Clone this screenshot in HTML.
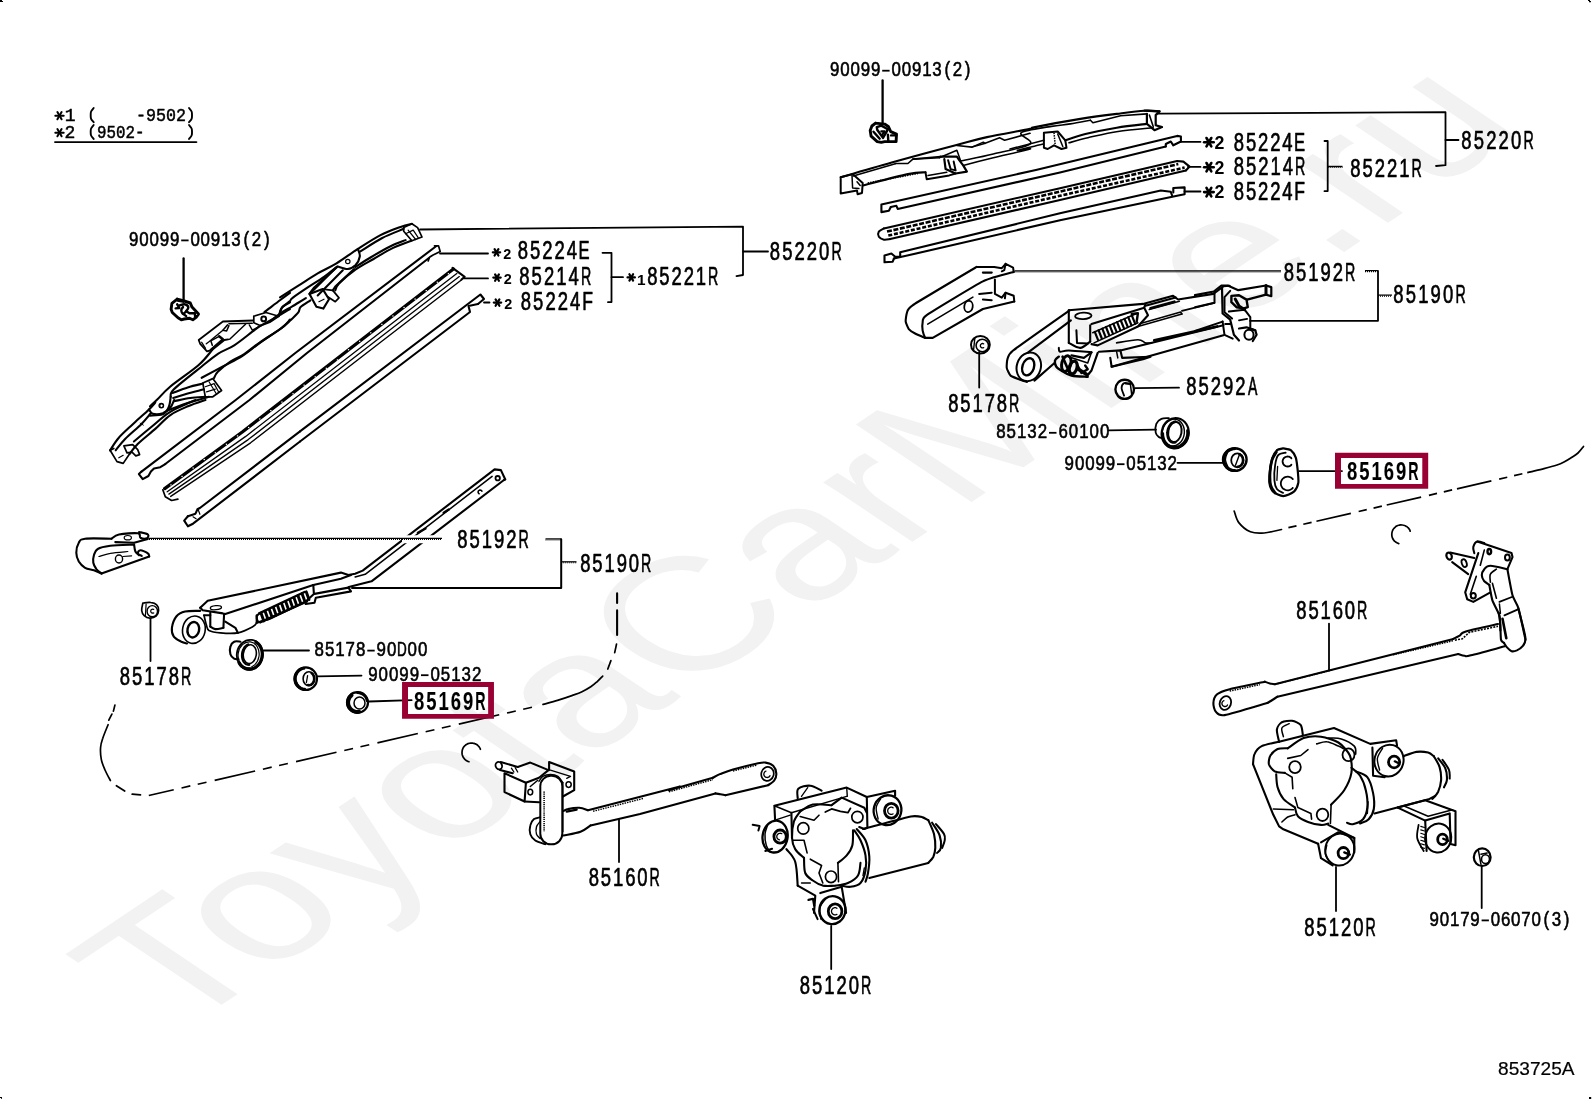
<!DOCTYPE html>
<html><head><meta charset="utf-8"><title>853725A</title>
<style>
html,body{margin:0;padding:0;background:#fff;}
body{width:1592px;height:1099px;overflow:hidden;font-family:"Liberation Sans",sans-serif;}
svg{display:block;will-change:transform;}
</style></head><body>
<svg width="1592" height="1099" viewBox="0 0 1592 1099">
<g fill="none" stroke="#000" stroke-width="1.3" stroke-linecap="round" stroke-linejoin="round">
<text transform="matrix(1.712,-1.148,1.68,1.13,177.2,1034.6)" font-family="Liberation Sans" font-size="100" fill="#f2f2f2" stroke="none">ToyotaCarMine.ru</text>
<path d="M0 0H2V1H3V2H0Z" fill="#000" stroke="none"/>
<path d="M1588 0H1590V1H1591V2.2H1589V1H1588Z" fill="#000" stroke="none"/>
<rect x="1589" y="1097" width="2.2" height="2" fill="#000" stroke="none"/>
<path d="M0 1097H2V1099H1.2V1098H0Z" fill="#000" stroke="none"/>
<path d="M55.3 115.7 L63.7 115.7" stroke-width="2"/>
<path d="M57.4 112.1 L61.6 119.3" stroke-width="2"/>
<path d="M61.6 112.1 L57.4 119.3" stroke-width="2"/>
<text x="70.2" y="121.4" font-family="Liberation Mono" font-size="18" text-anchor="middle" fill="#000" stroke="#000" stroke-width="0.5">1</text>
<path d="M93.7 108 C93.3 108.6 91.6 110.3 91.1 111.5 C90.6 112.7 90.7 113.9 90.7 115.2 C90.7 116.4 90.6 117.6 91.1 118.8 C91.6 120 93.3 121.7 93.7 122.3" stroke-width="1.9"/>
<text x="136" y="121.4" font-family="Liberation Mono" font-size="18" textLength="50" lengthAdjust="spacingAndGlyphs" fill="#000" stroke="#000" stroke-width="0.5">-9502</text>
<path d="M189 108 C189.4 108.6 191.1 110.3 191.6 111.5 C192.1 112.7 192 113.9 192 115.2 C192 116.4 192.1 117.6 191.6 118.8 C191.1 120 189.4 121.7 189 122.3" stroke-width="1.9"/>
<path d="M55.3 132.7 L63.7 132.7" stroke-width="2"/>
<path d="M57.4 129.1 L61.6 136.3" stroke-width="2"/>
<path d="M61.6 129.1 L57.4 136.3" stroke-width="2"/>
<text x="69.8" y="137.7" font-family="Liberation Mono" font-size="18" text-anchor="middle" fill="#000" stroke="#000" stroke-width="0.5">2</text>
<path d="M93.7 125 C93.3 125.6 91.6 127.3 91.1 128.5 C90.6 129.7 90.7 130.8 90.7 132 C90.7 133.2 90.6 134.3 91.1 135.5 C91.6 136.7 93.3 138.4 93.7 139" stroke-width="1.9"/>
<text x="97" y="137.7" font-family="Liberation Mono" font-size="18" textLength="47.5" lengthAdjust="spacingAndGlyphs" fill="#000" stroke="#000" stroke-width="0.5">9502-</text>
<path d="M189 125 C189.4 125.6 191.1 127.3 191.6 128.5 C192.1 129.7 192 130.8 192 132 C192 133.2 192.1 134.3 191.6 135.5 C191.1 136.7 189.4 138.4 189 139" stroke-width="1.9"/>
<path d="M55 142.1 L196.4 142.1" stroke-width="1.9"/>
<path d="M181.2 240.4H188.6" stroke="#000" stroke-width="1.8" stroke-linecap="butt"/>
<text transform="translate(0 245.7) scale(0.82 1)" x="163.2 175.6 188.1 200.6 213 225.5 238 250.4 262.9 275.4 287.8 300.3 312.8 325.3" y="0" text-anchor="middle" font-family="Liberation Sans" font-size="20.6" fill="#000" stroke="#000" stroke-width="0.6">90099 00913(2)</text>
<text transform="translate(0 259.4) scale(0.630 1)" x="927.1" y="0" text-anchor="middle" font-family="Liberation Sans" font-size="26.4" fill="#000" stroke="#000" stroke-width="0.7">E</text>
<text transform="translate(0 259.4) scale(0.7 1)" x="747 764.5 782 799.5 816.9 834.4" y="0" text-anchor="middle" font-family="Liberation Sans" font-size="26.4" fill="#000" stroke="#000" stroke-width="0.7">85224 </text>
<text transform="translate(0 284.6) scale(0.539 1)" x="1087.3" y="0" text-anchor="middle" font-family="Liberation Sans" font-size="26.4" fill="#000" stroke="#000" stroke-width="0.7">R</text>
<text transform="translate(0 284.6) scale(0.7 1)" x="749.2 766.8 784.4 802 819.6 837.2" y="0" text-anchor="middle" font-family="Liberation Sans" font-size="26.4" fill="#000" stroke="#000" stroke-width="0.7">85214 </text>
<text transform="translate(0 309.7) scale(0.665 1)" x="883.6" y="0" text-anchor="middle" font-family="Liberation Sans" font-size="26.4" fill="#000" stroke="#000" stroke-width="0.7">F</text>
<text transform="translate(0 309.7) scale(0.7 1)" x="751.3 768.9 786.6 804.2 821.8 839.4" y="0" text-anchor="middle" font-family="Liberation Sans" font-size="26.4" fill="#000" stroke="#000" stroke-width="0.7">85224 </text>
<text transform="translate(0 284.6) scale(0.539 1)" x="1323.1" y="0" text-anchor="middle" font-family="Liberation Sans" font-size="26.4" fill="#000" stroke="#000" stroke-width="0.7">R</text>
<text transform="translate(0 284.6) scale(0.7 1)" x="932 949.3 966.7 984 1001.4 1018.8" y="0" text-anchor="middle" font-family="Liberation Sans" font-size="26.4" fill="#000" stroke="#000" stroke-width="0.7">85221 </text>
<text transform="translate(0 260.2) scale(0.539 1)" x="1552.1" y="0" text-anchor="middle" font-family="Liberation Sans" font-size="26.4" fill="#000" stroke="#000" stroke-width="0.7">R</text>
<text transform="translate(0 260.2) scale(0.7 1)" x="1107.1 1124.7 1142.3 1159.9 1177.5 1195.1" y="0" text-anchor="middle" font-family="Liberation Sans" font-size="26.4" fill="#000" stroke="#000" stroke-width="0.7">85220 </text>
<text transform="translate(0 548.2) scale(0.539 1)" x="971.4" y="0" text-anchor="middle" font-family="Liberation Sans" font-size="26.4" fill="#000" stroke="#000" stroke-width="0.7">R</text>
<text transform="translate(0 548.2) scale(0.7 1)" x="660.6 678.1 695.5 713 730.5 748" y="0" text-anchor="middle" font-family="Liberation Sans" font-size="26.4" fill="#000" stroke="#000" stroke-width="0.7">85192 </text>
<text transform="translate(0 572) scale(0.539 1)" x="1198.7" y="0" text-anchor="middle" font-family="Liberation Sans" font-size="26.4" fill="#000" stroke="#000" stroke-width="0.7">R</text>
<text transform="translate(0 572) scale(0.7 1)" x="836.2 853.6 871 888.3 905.7 923" y="0" text-anchor="middle" font-family="Liberation Sans" font-size="26.4" fill="#000" stroke="#000" stroke-width="0.7">85190 </text>
<text transform="translate(0 685.2) scale(0.539 1)" x="345.3" y="0" text-anchor="middle" font-family="Liberation Sans" font-size="26.4" fill="#000" stroke="#000" stroke-width="0.7">R</text>
<text transform="translate(0 685.2) scale(0.7 1)" x="178.4 195.9 213.4 230.9 248.4 265.8" y="0" text-anchor="middle" font-family="Liberation Sans" font-size="26.4" fill="#000" stroke="#000" stroke-width="0.7">85178 </text>
<path d="M367.3 650.6H374.7" stroke="#000" stroke-width="1.8" stroke-linecap="butt"/>
<text transform="translate(0 655.9) scale(0.656 1)" x="612.8" y="0" text-anchor="middle" font-family="Liberation Sans" font-size="20.6" fill="#000" stroke="#000" stroke-width="0.6">D</text>
<text transform="translate(0 655.9) scale(0.82 1)" x="389.4 402 414.6 427.2 439.8 452.4 465 477.6 490.2 502.8 515.4" y="0" text-anchor="middle" font-family="Liberation Sans" font-size="20.6" fill="#000" stroke="#000" stroke-width="0.6">85178 90 00</text>
<path d="M421 675.2H428.5" stroke="#000" stroke-width="1.8" stroke-linecap="butt"/>
<text transform="translate(0 680.5) scale(0.82 1)" x="454.7 467.4 480 492.7 505.3 518 530.6 543.3 556 568.6 581.3" y="0" text-anchor="middle" font-family="Liberation Sans" font-size="20.6" fill="#000" stroke="#000" stroke-width="0.6">90099 05132</text>
<text transform="translate(0 710.2) scale(0.539 1)" x="891.3" y="0" text-anchor="middle" font-family="Liberation Sans" font-size="26.4" fill="#000" font-weight="bold" stroke="#000" stroke-width="0.1">R</text>
<text transform="translate(0 710.2) scale(0.7 1)" x="598.9 616.3 633.8 651.3 668.8 686.3" y="0" text-anchor="middle" font-family="Liberation Sans" font-size="26.4" fill="#000" font-weight="bold" stroke="#000" stroke-width="0.1">85169 </text>
<text transform="translate(0 886) scale(0.539 1)" x="1214.5" y="0" text-anchor="middle" font-family="Liberation Sans" font-size="26.4" fill="#000" stroke="#000" stroke-width="0.7">R</text>
<text transform="translate(0 886) scale(0.7 1)" x="848.4 865.7 883.1 900.5 917.8 935.2" y="0" text-anchor="middle" font-family="Liberation Sans" font-size="26.4" fill="#000" stroke="#000" stroke-width="0.7">85160 </text>
<text transform="translate(0 993.5) scale(0.539 1)" x="1606.9" y="0" text-anchor="middle" font-family="Liberation Sans" font-size="26.4" fill="#000" stroke="#000" stroke-width="0.7">R</text>
<text transform="translate(0 993.5) scale(0.7 1)" x="1149.9 1167.3 1184.8 1202.3 1219.8 1237.3" y="0" text-anchor="middle" font-family="Liberation Sans" font-size="26.4" fill="#000" stroke="#000" stroke-width="0.7">85120 </text>
<path d="M882.2 70.7H889.6" stroke="#000" stroke-width="1.8" stroke-linecap="butt"/>
<text transform="translate(0 76) scale(0.82 1)" x="1018 1030.5 1043 1055.4 1067.9 1080.4 1092.9 1105.3 1117.8 1130.3 1142.7 1155.2 1167.7 1180.1" y="0" text-anchor="middle" font-family="Liberation Sans" font-size="20.6" fill="#000" stroke="#000" stroke-width="0.6">90099 00913(2)</text>
<text transform="translate(0 150.6) scale(0.630 1)" x="2062.9" y="0" text-anchor="middle" font-family="Liberation Sans" font-size="26.4" fill="#000" stroke="#000" stroke-width="0.7">E</text>
<text transform="translate(0 150.6) scale(0.7 1)" x="1769.8 1787.2 1804.5 1821.9 1839.3 1856.6" y="0" text-anchor="middle" font-family="Liberation Sans" font-size="26.4" fill="#000" stroke="#000" stroke-width="0.7">85224 </text>
<text transform="translate(0 175.2) scale(0.539 1)" x="2412" y="0" text-anchor="middle" font-family="Liberation Sans" font-size="26.4" fill="#000" stroke="#000" stroke-width="0.7">R</text>
<text transform="translate(0 175.2) scale(0.7 1)" x="1769.9 1787.3 1804.8 1822.3 1839.8 1857.3" y="0" text-anchor="middle" font-family="Liberation Sans" font-size="26.4" fill="#000" stroke="#000" stroke-width="0.7">85214 </text>
<text transform="translate(0 199.6) scale(0.665 1)" x="1954.3" y="0" text-anchor="middle" font-family="Liberation Sans" font-size="26.4" fill="#000" stroke="#000" stroke-width="0.7">F</text>
<text transform="translate(0 199.6) scale(0.7 1)" x="1769.8 1787.2 1804.5 1821.9 1839.3 1856.6" y="0" text-anchor="middle" font-family="Liberation Sans" font-size="26.4" fill="#000" stroke="#000" stroke-width="0.7">85224 </text>
<text transform="translate(0 176.9) scale(0.539 1)" x="2628.2" y="0" text-anchor="middle" font-family="Liberation Sans" font-size="26.4" fill="#000" stroke="#000" stroke-width="0.7">R</text>
<text transform="translate(0 176.9) scale(0.7 1)" x="1936.3 1953.8 1971.3 1988.7 2006.2 2023.7" y="0" text-anchor="middle" font-family="Liberation Sans" font-size="26.4" fill="#000" stroke="#000" stroke-width="0.7">85221 </text>
<text transform="translate(0 149.4) scale(0.539 1)" x="2835.9" y="0" text-anchor="middle" font-family="Liberation Sans" font-size="26.4" fill="#000" stroke="#000" stroke-width="0.7">R</text>
<text transform="translate(0 149.4) scale(0.7 1)" x="2095 2112.7 2130.4 2148.2 2165.9 2183.6" y="0" text-anchor="middle" font-family="Liberation Sans" font-size="26.4" fill="#000" stroke="#000" stroke-width="0.7">85220 </text>
<text transform="translate(0 280.8) scale(0.539 1)" x="2504.8" y="0" text-anchor="middle" font-family="Liberation Sans" font-size="26.4" fill="#000" stroke="#000" stroke-width="0.7">R</text>
<text transform="translate(0 280.8) scale(0.7 1)" x="1841.3 1858.8 1876.3 1893.7 1911.2 1928.7" y="0" text-anchor="middle" font-family="Liberation Sans" font-size="26.4" fill="#000" stroke="#000" stroke-width="0.7">85192 </text>
<text transform="translate(0 303.4) scale(0.539 1)" x="2709.7" y="0" text-anchor="middle" font-family="Liberation Sans" font-size="26.4" fill="#000" stroke="#000" stroke-width="0.7">R</text>
<text transform="translate(0 303.4) scale(0.7 1)" x="1997.8 2015.5 2033.3 2051 2068.7 2086.5" y="0" text-anchor="middle" font-family="Liberation Sans" font-size="26.4" fill="#000" stroke="#000" stroke-width="0.7">85190 </text>
<text transform="translate(0 412.2) scale(0.539 1)" x="1881.5" y="0" text-anchor="middle" font-family="Liberation Sans" font-size="26.4" fill="#000" stroke="#000" stroke-width="0.7">R</text>
<text transform="translate(0 412.2) scale(0.7 1)" x="1362 1379.3 1396.7 1414 1431.4 1448.8" y="0" text-anchor="middle" font-family="Liberation Sans" font-size="26.4" fill="#000" stroke="#000" stroke-width="0.7">85178 </text>
<text transform="translate(0 394.7) scale(0.532 1)" x="2354.5" y="0" text-anchor="middle" font-family="Liberation Sans" font-size="26.4" fill="#000" stroke="#000" stroke-width="0.7">A</text>
<text transform="translate(0 394.7) scale(0.7 1)" x="1702 1719.5 1737 1754.5 1771.9 1789.4" y="0" text-anchor="middle" font-family="Liberation Sans" font-size="26.4" fill="#000" stroke="#000" stroke-width="0.7">85292 </text>
<path d="M1049 432.8H1056.5" stroke="#000" stroke-width="1.8" stroke-linecap="butt"/>
<text transform="translate(0 438.1) scale(0.82 1)" x="1220.6 1233.2 1245.9 1258.5 1271.2 1283.8 1296.5 1309.2 1321.8 1334.5 1347.1" y="0" text-anchor="middle" font-family="Liberation Sans" font-size="20.6" fill="#000" stroke="#000" stroke-width="0.6">85132 60100</text>
<path d="M1117 464.2H1124.5" stroke="#000" stroke-width="1.8" stroke-linecap="butt"/>
<text transform="translate(0 469.5) scale(0.82 1)" x="1304 1316.6 1329.1 1341.7 1354.2 1366.8 1379.3 1391.9 1404.4 1416.9 1429.5" y="0" text-anchor="middle" font-family="Liberation Sans" font-size="20.6" fill="#000" stroke="#000" stroke-width="0.6">90099 05132</text>
<text transform="translate(0 480.2) scale(0.539 1)" x="2622.3" y="0" text-anchor="middle" font-family="Liberation Sans" font-size="26.4" fill="#000" font-weight="bold" stroke="#000" stroke-width="0.1">R</text>
<text transform="translate(0 480.2) scale(0.7 1)" x="1931.7 1949.2 1966.7 1984.2 2001.7 2019.1" y="0" text-anchor="middle" font-family="Liberation Sans" font-size="26.4" fill="#000" font-weight="bold" stroke="#000" stroke-width="0.1">85169 </text>
<text transform="translate(0 618.8) scale(0.539 1)" x="2527.1" y="0" text-anchor="middle" font-family="Liberation Sans" font-size="26.4" fill="#000" stroke="#000" stroke-width="0.7">R</text>
<text transform="translate(0 618.8) scale(0.7 1)" x="1859.1 1876.5 1893.8 1911.2 1928.5 1945.9" y="0" text-anchor="middle" font-family="Liberation Sans" font-size="26.4" fill="#000" stroke="#000" stroke-width="0.7">85160 </text>
<text transform="translate(0 936) scale(0.539 1)" x="2542.8" y="0" text-anchor="middle" font-family="Liberation Sans" font-size="26.4" fill="#000" stroke="#000" stroke-width="0.7">R</text>
<text transform="translate(0 936) scale(0.7 1)" x="1870.6 1888.1 1905.5 1923 1940.5 1958" y="0" text-anchor="middle" font-family="Liberation Sans" font-size="26.4" fill="#000" stroke="#000" stroke-width="0.7">85120 </text>
<path d="M1481.6 920.4H1488.9" stroke="#000" stroke-width="1.8" stroke-linecap="butt"/>
<text transform="translate(0 925.7) scale(0.82 1)" x="1749.1 1761.5 1774 1786.4 1798.8 1811.2 1823.7 1836.1 1848.5 1860.9 1873.4 1885.8 1898.2 1910.6" y="0" text-anchor="middle" font-family="Liberation Sans" font-size="20.6" fill="#000" stroke="#000" stroke-width="0.6">90179 06070(3)</text>
<text x="1498" y="1074.6" font-family="Liberation Sans" font-size="18.8" textLength="76.5" lengthAdjust="spacingAndGlyphs" fill="#000" stroke="#000" stroke-width="0.2">853725A</text>
<path d="M492.8 252.3 L500.2 252.3" stroke-width="2.2"/>
<path d="M494.6 249.1 L498.4 255.5" stroke-width="2.2"/>
<path d="M498.4 249.1 L494.6 255.5" stroke-width="2.2"/>
<ellipse cx="496.5" cy="252.3" rx="1.6" ry="1.6" stroke-width="0.1" fill="#000"/>
<text x="507.2" y="258.7" text-anchor="middle" font-family="Liberation Sans" font-weight="bold" font-size="14.4" fill="#000" stroke="none">2</text>
<path d="M493.3 277.6 L500.7 277.6" stroke-width="2.2"/>
<path d="M495.1 274.4 L498.9 280.8" stroke-width="2.2"/>
<path d="M498.9 274.4 L495.1 280.8" stroke-width="2.2"/>
<ellipse cx="497" cy="277.6" rx="1.6" ry="1.6" stroke-width="0.1" fill="#000"/>
<text x="507.7" y="283.8" text-anchor="middle" font-family="Liberation Sans" font-weight="bold" font-size="14.4" fill="#000" stroke="none">2</text>
<path d="M493.8 302.6 L501.2 302.6" stroke-width="2.2"/>
<path d="M495.6 299.4 L499.4 305.8" stroke-width="2.2"/>
<path d="M499.4 299.4 L495.6 305.8" stroke-width="2.2"/>
<ellipse cx="497.5" cy="302.6" rx="1.6" ry="1.6" stroke-width="0.1" fill="#000"/>
<text x="508.2" y="308.8" text-anchor="middle" font-family="Liberation Sans" font-weight="bold" font-size="14.4" fill="#000" stroke="none">2</text>
<path d="M627.5 277.4 L634.9 277.4" stroke-width="2.2"/>
<path d="M629.4 274.2 L633.1 280.6" stroke-width="2.2"/>
<path d="M633.1 274.2 L629.4 280.6" stroke-width="2.2"/>
<ellipse cx="631.2" cy="277.4" rx="1.6" ry="1.6" stroke-width="0.1" fill="#000"/>
<text x="641.3" y="284.5" text-anchor="middle" font-family="Liberation Sans" font-weight="bold" font-size="15.4" fill="#000" stroke="none">1</text>
<path d="M1204.1 142.2 L1213.7 142.2" stroke-width="2.6"/>
<path d="M1206.5 138 L1211.3 146.4" stroke-width="2.6"/>
<path d="M1211.3 138 L1206.5 146.4" stroke-width="2.6"/>
<ellipse cx="1208.9" cy="142.2" rx="2" ry="2" stroke-width="0.1" fill="#000"/>
<text x="1219.5" y="149.1" text-anchor="middle" font-family="Liberation Sans" font-weight="bold" font-size="17.8" fill="#000" stroke="none">2</text>
<path d="M1204.1 167.2 L1213.7 167.2" stroke-width="2.6"/>
<path d="M1206.5 163 L1211.3 171.4" stroke-width="2.6"/>
<path d="M1211.3 163 L1206.5 171.4" stroke-width="2.6"/>
<ellipse cx="1208.9" cy="167.2" rx="2" ry="2" stroke-width="0.1" fill="#000"/>
<text x="1219.5" y="174" text-anchor="middle" font-family="Liberation Sans" font-weight="bold" font-size="17.8" fill="#000" stroke="none">2</text>
<path d="M1204.1 192.1 L1213.7 192.1" stroke-width="2.6"/>
<path d="M1206.5 187.9 L1211.3 196.3" stroke-width="2.6"/>
<path d="M1211.3 187.9 L1206.5 196.3" stroke-width="2.6"/>
<ellipse cx="1208.9" cy="192.1" rx="2" ry="2" stroke-width="0.1" fill="#000"/>
<text x="1219.5" y="197.8" text-anchor="middle" font-family="Liberation Sans" font-weight="bold" font-size="17.8" fill="#000" stroke="none">2</text>
<path d="M183.6 258.5 L183.6 300.5" stroke-width="2.3"/>
<path d="M420 229.5 L743 226.6 L743 275 L736.5 276.2" stroke-width="1.8"/>
<path d="M743 251.5 L768 251.5" stroke-width="1.8"/>
<path d="M440 253.5 L488 253.5" stroke-width="1.8"/>
<path d="M464 278.4 L488 278.4" stroke-width="1.8"/>
<path d="M484 302.5 L489.5 302.5" stroke-width="1.8"/>
<path d="M602.5 252.8 L611.5 252.8 L611.5 302 L608 302.2" stroke-width="1.8"/>
<path d="M611.5 277.2 L623 277.2" stroke-width="1.8"/>
<path d="M149 538.3H442" stroke-width="1.25" stroke-linecap="butt"/>
<path d="M149 539.4H442" stroke-width="1.1" stroke-linecap="butt" stroke-dasharray="1 1"/>
<path d="M545.5 538.9H561.2" stroke-width="1.25" stroke-linecap="butt"/>
<path d="M545.5 540H561.2" stroke-width="1.1" stroke-linecap="butt" stroke-dasharray="1 1"/>
<path d="M561.2 539.2 L561.2 587.9 L352 587.9" stroke-width="2"/>
<path d="M561.2 561.8H576.5" stroke-width="1.25" stroke-linecap="butt"/>
<path d="M561.2 562.8H576.5" stroke-width="1.1" stroke-linecap="butt" stroke-dasharray="1 1"/>
<path d="M150.5 618.5 L150.5 661" stroke-width="1.8"/>
<path d="M263.5 650.5 L309 650.5" stroke-width="1.8"/>
<path d="M317.5 676.3 L361.5 675.6" stroke-width="1.8"/>
<path d="M369 701.5 L411.6 700.2" stroke-width="1.8"/>
<path d="M619 819.5 L619 862" stroke-width="1.8"/>
<path d="M831.2 926 L831.2 969" stroke-width="1.8"/>
<path d="M617.1 593.4 L617.1 603" stroke-width="2.1"/>
<path d="M617.1 610.4 L617.1 635" stroke-width="2.1"/>
<path d="M616.5 644.2 L614.7 652.6" stroke-width="1.7"/>
<path d="M610.9 660.6 L607.8 669" stroke-width="1.7"/>
<path d="M602.7 676.1 C601.8 677 599 680 597 681.8 C595 683.6 593.4 685.1 590.8 686.8 C588.2 688.5 584.6 690.5 581.5 692 C578.4 693.5 575.9 694.2 571.9 695.6 C567.9 697 562.3 698.9 557.5 700.4 C552.7 701.9 545.4 703.7 543 704.4" stroke-width="1.7"/>
<path d="M148.8 795.5L536.1 706.3" stroke-width="1.7" stroke-linecap="butt" stroke-dasharray="41.5 8 9 7.6 9 8.4" stroke-dashoffset="15.9"/>
<path d="M132.2 794.2 L140.5 794.9" stroke-width="1.7"/>
<path d="M116.4 785.7 L124.7 791" stroke-width="1.7"/>
<path d="M110.4 780.5 C109.5 778.8 106.5 773.5 105 770 C103.5 766.5 102 763.2 101.3 759.4 C100.6 755.6 100.3 750.8 100.6 747.3 C100.8 743.8 101.5 742 102.8 738.2 C104 734.4 107.2 727 108.1 724.7" stroke-width="1.7"/>
<path d="M108.8 720.2 L111.9 714.1" stroke-width="1.7"/>
<path d="M113.4 711.1 L114.9 705.1" stroke-width="1.7"/>
<path d="M480.4 749.3 C480.3 748.9 479.9 748 479.5 747.4 C479.2 746.8 478.7 746.3 478.2 745.8 C477.8 745.3 477.2 744.9 476.7 744.5 C476.1 744.2 475.5 743.8 474.8 743.6 C474.2 743.4 473.5 743.2 472.8 743.1 C472.2 743 471.5 743 470.8 743 C470.1 743.1 469.4 743.2 468.8 743.4 C468.1 743.6 467.5 743.9 466.9 744.2 C466.3 744.5 465.7 744.9 465.2 745.4 C464.7 745.8 464.2 746.3 463.8 746.9 C463.4 747.4 463.1 748 462.8 748.6 C462.5 749.3 462.3 749.9 462.2 750.6 C462.1 751.3 462 752 462 752.6 C462 753.3 462.1 754 462.2 754.7 C462.4 755.3 462.6 756 462.9 756.6 C463.2 757.2 463.6 757.8 464 758.3 C464.4 758.9 464.9 759.4 465.4 759.8 C465.9 760.2 466.5 760.6 467.1 760.9 C467.7 761.2 468.7 761.6 469 761.7" stroke-width="1.7"/>
<path d="M882.6 80.5 L882.6 123" stroke-width="2.3"/>
<path d="M1158 113.6 L1445.5 112.2 L1445.5 165.2 L1436 166" stroke-width="1.8"/>
<path d="M1445.5 140 L1458.5 140" stroke-width="1.8"/>
<path d="M1180.5 141.8 L1200.5 141.8" stroke-width="1.8"/>
<path d="M1188 166.9 L1200.5 166.9" stroke-width="1.8"/>
<path d="M1184.5 191.5 L1200.5 191.5" stroke-width="1.8"/>
<path d="M1324.5 141 L1327.7 141 L1327.7 191 L1324.5 191.2" stroke-width="1.8"/>
<path d="M1327.7 166.4H1342.5" stroke-width="1.25" stroke-linecap="butt"/>
<path d="M1327.7 167.4H1342.5" stroke-width="1.1" stroke-linecap="butt" stroke-dasharray="1 1"/>
<path d="M1014.5 270.9H1281" stroke-width="1.25" stroke-linecap="butt"/>
<path d="M1014.5 272H1281" stroke-width="1.1" stroke-linecap="butt" stroke-dasharray="1 1"/>
<path d="M1365 270.6H1378" stroke-width="1.25" stroke-linecap="butt"/>
<path d="M1365 271.6H1378" stroke-width="1.1" stroke-linecap="butt" stroke-dasharray="1 1"/>
<path d="M1378 271 L1378 320.8 L1250 320.8" stroke-width="1.8"/>
<path d="M1378 295.1H1392" stroke-width="1.25" stroke-linecap="butt"/>
<path d="M1378 296.1H1392" stroke-width="1.1" stroke-linecap="butt" stroke-dasharray="1 1"/>
<path d="M979.2 352 L979.2 387.5" stroke-width="1.8"/>
<path d="M1135 388.2 L1179 387.7" stroke-width="1.8"/>
<path d="M1108.5 430.4 L1156 429.6" stroke-width="1.8"/>
<path d="M1177.5 462.8 L1223 462.8" stroke-width="1.8"/>
<path d="M1299 471.1 L1342 471.1" stroke-width="1.8"/>
<path d="M1329 623.6 L1329 670" stroke-width="1.8"/>
<path d="M1336 867 L1336 911" stroke-width="1.8"/>
<path d="M1481.7 865.5 L1481.7 908" stroke-width="1.8"/>
<path d="M1583.5 446.5 C1582.6 447.6 1580.1 451.1 1578 453 C1575.9 454.9 1573.1 456.5 1570.8 458 C1568.5 459.5 1566.3 460.8 1564 462 C1561.7 463.2 1560.3 463.9 1557 465 C1553.7 466.1 1548.4 467.5 1544 468.6 C1539.6 469.8 1532.7 471.3 1530.4 471.9" stroke-width="1.7"/>
<path d="M1288.4 527.7L1530.4 471.9" stroke-width="1.7" stroke-linecap="butt" stroke-dasharray="8.3 7 8.5 5 35.3 8"/>
<path d="M1281.5 529.5 C1278.6 530.1 1269.4 532.6 1264.2 533 C1259 533.4 1254.6 533.5 1250.4 531.8 C1246.2 530.1 1241.5 526 1238.8 522.6 C1236.1 519.2 1235 513 1234.2 511.1" stroke-width="1.7"/>
<path d="M1410.2 531.2 C1410.1 530.8 1409.7 529.9 1409.3 529.3 C1409 528.7 1408.5 528.2 1408 527.7 C1407.6 527.2 1407 526.8 1406.5 526.4 C1405.9 526.1 1405.3 525.7 1404.6 525.5 C1404 525.3 1403.3 525.1 1402.6 525 C1402 524.9 1401.3 524.9 1400.6 524.9 C1399.9 525 1399.2 525.1 1398.6 525.3 C1397.9 525.5 1397.3 525.8 1396.7 526.1 C1396.1 526.4 1395.5 526.8 1395 527.3 C1394.5 527.7 1394 528.2 1393.6 528.8 C1393.2 529.3 1392.9 529.9 1392.6 530.5 C1392.3 531.2 1392.1 531.8 1392 532.5 C1391.9 533.2 1391.8 533.9 1391.8 534.5 C1391.8 535.2 1391.9 535.9 1392 536.6 C1392.2 537.2 1392.4 537.9 1392.7 538.5 C1393 539.1 1393.4 539.7 1393.8 540.2 C1394.2 540.8 1394.7 541.3 1395.2 541.7 C1395.7 542.1 1396.3 542.5 1396.9 542.8 C1397.5 543.1 1398.5 543.5 1398.8 543.6" stroke-width="1.7"/>
<path fill-rule="evenodd" fill="#990033" stroke="none" d="M402.05 681.9H493.95V718.7H402.05Z M408.0 687.1H488.15V714.0H408.0Z"/>
<path fill-rule="evenodd" fill="#990033" stroke="none" d="M1335 452.85H1428.2V488.7H1335Z M1341 457.95000000000005H1422.3V483.9H1341Z"/>
<path d="M411.9 223.8 C410 224.3 405.8 225.1 400.6 226.9 C395.4 228.8 387.6 231.4 380.5 235.1 C373.4 238.8 365.2 244.2 357.9 248.9 C350.6 253.6 343.2 259.3 336.5 263.4 C329.8 267.4 324 269.8 317.7 273.4 C311.4 277.1 305.1 281.4 298.8 285.4 C292.6 289.3 283.1 295.3 280 297.3" stroke-width="2.1"/>
<path d="M403.7 228.8 C400.1 230.4 389 234.5 381.8 238.2 C374.5 242 364 249.2 360.4 251.4" stroke-width="2.1"/>
<path d="M403.7 227.6 L411.9 223.8 L417.6 227.6 L422 237 L411.9 240.8 L403.7 231.3 L403.7 227.6" stroke-width="1.7"/>
<path d="M405.6 233.8 L413.2 230.1 L418.2 237.6" stroke-width="1.2"/>
<path d="M408.1 230.1 L415.7 239.5" stroke-width="1.2"/>
<path d="M411.3 240.8 C408.2 241.9 399.3 244.9 393.1 247.9 C386.8 251 379.9 255.3 373.6 259 C367.3 262.6 361.1 265.6 355.4 269.6 C349.6 273.7 342.4 280 339 283.5 C335.7 286.9 335.9 289.2 335.3 290.4" stroke-width="2.1"/>
<path d="M405.6 240.1 C403.1 241.1 396.4 243.3 390.6 246.2 C384.7 249 376.3 254 370.5 257.5 C364.6 261 357.9 265.5 355.4 267.1" stroke-width="2.1"/>
<path d="M357.9 248.9 C358.2 250.2 360.2 253.7 359.8 256.5 C359.4 259.2 357.4 263.2 355.4 265.3 C353.4 267.3 350.8 268.8 347.8 269 C344.9 269.2 339.5 266.9 337.8 266.5" stroke-width="2.1"/>
<ellipse cx="347.8" cy="261.5" rx="2.2" ry="2.2" stroke-width="1.2"/>
<path d="M337.2 266.5 L309.5 294.1" stroke-width="2.1"/>
<path d="M342.8 270.3 L317.7 295.4" stroke-width="2.1"/>
<path d="M354.1 269 L335.3 286.6 L332.8 290.4" stroke-width="2.1"/>
<path d="M309.5 294.1 L316.4 306.7 L323.3 308.6 L329 299.2 L322.7 289.1 L309.5 294.1" stroke-width="2.1"/>
<path d="M322.7 289.1 L332.8 290.4 L339 297.9 L335.3 301.7 L327.7 296.7" stroke-width="1.7"/>
<path d="M318.9 301.7 L324 299.2" stroke-width="1.2"/>
<path d="M290 292.8 C288.4 294 284.5 296.8 280.3 300 C276 303.2 267.1 310.1 264.4 312.1" stroke-width="2.1"/>
<path d="M336.1 267.5 C334.1 269 328.5 273.7 324 276.9 C319.5 280.1 314.2 283.2 308.9 286.7 C303.6 290.2 295.4 295.7 292.3 298.1 C289.1 300.4 291.7 299.6 290 301.1 C288.4 302.6 284.1 305.2 282.5 307.1 C280.8 309 280.6 311.5 280.2 312.4" stroke-width="2.1"/>
<path d="M290 302.3 C288.6 303.1 283.7 305.2 281.8 307.6 C279.9 309.9 279.3 314.8 278.8 316.2" stroke-width="2.1"/>
<path d="M253.8 316.2 L265.9 312.5 L278.8 316.2 L270.5 321.9 L260.6 325.7 L253.8 322.7 L253.8 316.2" stroke-width="1.7"/>
<ellipse cx="263.7" cy="318.9" rx="2.4" ry="2.4" stroke-width="2"/>
<path d="M249.3 324.9 L252.3 330.2 L260.6 325.7" stroke-width="1.4"/>
<path d="M253.1 320.5 L222.9 321.5 L198.7 340 L200.2 343.8 L207 351.4 L212.3 349.8 L224.4 340 L228.2 339.3" stroke-width="1.8"/>
<path d="M228.9 323.8 L252.3 323.3" stroke-width="1.4"/>
<path d="M227.4 324.9 L222.9 330.2 L226.6 331 L228.9 325.7" stroke-width="1.6"/>
<path d="M222.9 330.2 L209.3 341.5 L206.3 343.8" stroke-width="1.4"/>
<path d="M201.7 342.3 L205.5 348.3"/>
<path d="M219.1 336.3 L222.9 339.3 L210.8 349.8" stroke-width="2.4"/>
<path d="M219.1 336.3 L210.8 340.8 L212.3 345.3" stroke-width="1.5"/>
<path d="M245.5 324.2 L229.7 339.3" stroke-width="1.5"/>
<path d="M290 309.1 C287.6 310.4 280.6 314.6 275.7 317.4 C270.8 320.1 263.2 324.3 260.6 325.7" stroke-width="2.1"/>
<path d="M260.6 325.7 C259.2 326.7 256.7 328.4 252.3 331.7 C247.9 335 239.9 341.7 234.2 345.3 C228.5 349 223.8 350.1 218.3 353.6 C212.9 357.2 209.1 360.5 201.7 366.5 C194.3 372.4 179 384.2 173.9 389.2 C168.7 394.3 171.3 395.5 170.7 396.8" stroke-width="2.1"/>
<path d="M170.7 396.8 C170.4 398.5 170.2 403.9 168.8 406.8 C167.5 409.8 165.7 412.9 162.6 414.4 C159.4 415.8 152.1 415.4 150 415.6" stroke-width="2.1"/>
<path d="M212.3 349.8 C210 352.4 205.7 358.8 198.7 365 C191.7 371.1 177 381 170.1 386.7 C163.2 392.5 160.9 396.1 157.5 399.3 C154.2 402.5 151.3 405.1 150 406.2" stroke-width="2.1"/>
<path d="M290 319.6 C288.6 321 286.7 324.2 281.8 327.9 C276.9 331.7 267.2 337.6 260.6 342.3 C254.1 347 248.8 351.9 242.5 355.9 C236.2 359.9 229.7 362.8 222.9 366.5 C216.1 370.1 205.2 375.9 201.7 377.8" stroke-width="2.1"/>
<path d="M310.4 300.3 C308.8 301.5 302.6 305.1 300.6 307.1 C298.6 309.1 300 310.3 298.3 312.4 C296.7 314.5 293.8 317.2 290.8 320 C287.8 322.7 285.5 325.2 280.2 329 C275 332.8 265.3 338.6 259.3 342.8 C253.3 346.9 249 350.9 244.2 354.1 C239.4 357.2 234.8 358.7 230.4 361.6 C226 364.5 220.6 368.9 217.8 371.7 C215.1 374.4 214.7 376.9 214.1 377.9" stroke-width="2.1"/>
<path d="M305.9 298.1 C303.6 299.4 296.3 304 292.3 306.4 C288.3 308.8 285.2 310 281.7 312.4 C278.2 314.8 272.9 319.3 271.1 320.7" stroke-width="2.1"/>
<path d="M336.9 267.1 L314.2 287.5 L309.7 293.5" stroke-width="2.1"/>
<path d="M172.6 393 C175.1 392.1 182.7 388.9 187.7 387.4 C192.7 385.8 200.3 384.2 202.8 383.6" stroke-width="2.1"/>
<path d="M173.2 398 C175.6 397.3 182.6 395.1 187.7 393.6 C192.8 392.2 201.3 390 204 389.2" stroke-width="2.1"/>
<path d="M173.9 401.2 C176.6 400.7 185 398.8 190.2 398 C195.4 397.3 202.8 397 205.3 396.8" stroke-width="2.1"/>
<path d="M167.6 410.6 C170.9 409.3 180.8 405.4 187.7 403.1 C194.6 400.8 205.5 397.8 209 396.8" stroke-width="2.1"/>
<path d="M202.8 383 L212.8 378.6 L221.6 390.5 L212.8 396.8 L205.3 396.8 L202.8 383" stroke-width="1.7"/>
<path d="M205.3 386.7 L214.1 383.6 L218.5 391.8" stroke-width="1.2"/>
<path d="M206.5 391.8 L215.3 389.2" stroke-width="1.2"/>
<path d="M209 381.7 L216.6 394.3" stroke-width="1.2"/>
<ellipse cx="161.3" cy="405.6" rx="2.3" ry="2.3" stroke-width="1.2"/>
<path d="M177.2 299.1 L184.2 301 L190.3 303 L192 307.1 L198.5 314.1 L196.1 317.4 L192.8 319.8 L189.5 318.2 L184.2 319 L181.3 319.8 L178 317.8 L172.3 312.5 L171.1 309.2 L171.9 303.4 L177.2 299.1" stroke-width="2.9"/>
<path d="M177.2 304.3 L179.3 308 L175.6 308.4" stroke-width="2.4"/>
<path d="M179.3 305.5 C180.2 305.3 183.1 304 184.6 304.3 C186.1 304.5 188 306 188.3 307.1 C188.6 308.3 187.1 310.1 186.2 311.2 C185.3 312.3 183.8 313.9 183 313.7 C182.1 313.5 181.3 311.1 181.3 310 C181.3 308.9 182.7 307.6 183 307.1" stroke-width="2.4"/>
<path d="M186.2 311.2 L189.5 313.3 L194.8 313.3 L195.2 317" stroke-width="2.4"/>
<path d="M183 313.7 L186.2 316.1" stroke-width="2.4"/>
<path d="M177.6 300.2 L183 301.4" stroke-width="3"/>
<path d="M155.3 402.5 C154.2 403.7 152.6 406 149 409.4 C145.4 412.9 138.9 418.5 133.9 423.2 C128.9 428 122.8 433.2 118.8 437.7 C114.9 442.2 111.5 448.2 110.1 450.3" stroke-width="2.1"/>
<path d="M150.3 413.8 C148.8 415.5 145.6 419.7 141.5 423.9 C137.3 428.1 129.4 434.5 125.1 438.9 C120.8 443.3 117.3 448.4 115.7 450.3" stroke-width="2.1"/>
<path d="M110.1 450.3 L117 461.6 L123.2 463.4 L129.5 454" stroke-width="1.7"/>
<path d="M110.1 450.3 L113.8 448.4" stroke-width="1.7"/>
<path d="M129.5 454 C130.9 452.3 133.4 448.2 137.7 444 C142 439.8 149.8 433.7 155.3 428.9 C160.7 424.1 164.9 418.8 170.4 415.1 C175.8 411.3 182.1 408.8 187.9 406.3 C193.8 403.8 202.6 401 205.5 400" stroke-width="2.1"/>
<path d="M133.9 441.5 C137.1 438.8 146.9 430.6 152.8 425.8 C158.6 420.9 163.4 416.2 169.1 412.6 C174.7 408.9 182.3 405.9 186.7 403.8 C191.1 401.7 194 400.6 195.5 400" stroke-width="2.1"/>
<path d="M123.9 445.9 L132.7 444.6 L137.7 449.6 L139.6 454.6 L135.8 455.9 L132 452.1 L127 452.8 L123.9 445.9" stroke-width="1.7"/>
<path d="M118.8 457.8 L123.2 455.3" stroke-width="1.2"/>
<path d="M149 409.4 C149.6 410.2 150.5 413.2 152.8 413.8 C155.1 414.4 159.9 414.2 162.8 413.2 C165.7 412.1 168.5 409.7 170.4 407.5 C172.2 405.3 173.5 401.3 174.1 400" stroke-width="2.1"/>
<ellipse cx="161.6" cy="405.7" rx="1.8" ry="1.8" stroke-width="1.2"/>
<path d="M140.2 423.2 L143.3 425.1" stroke-width="1"/>
<path d="M141.5 471.6 L235.7 400 L295 353.2 L436.4 246" stroke-width="2.1"/>
<path d="M141.5 471.6 L138.9 474.1 L142.7 479.1 L148.4 476 L150.9 471.6 L154 468.5 L160.3 467.2 L165.3 464.1" stroke-width="2.1"/>
<path d="M165.3 464 L249.5 400 L307 353 L428.9 258" stroke-width="2.1"/>
<path d="M434.5 245.8 L438.5 245.8 L440.2 251.4 L432.6 255.2 L429.5 257.3 L428.2 260.9" stroke-width="1.7"/>
<path d="M164.7 488.6 L242.3 432 L374.2 330 L453.4 269" stroke-width="3.3"/>
<rect x="170.3" y="484.3" width="1.3" height="1.2" fill="#fff" stroke="none"/>
<rect x="181.4" y="475.8" width="1.3" height="1.2" fill="#fff" stroke="none"/>
<rect x="192.5" y="467.4" width="1.3" height="1.2" fill="#fff" stroke="none"/>
<rect x="203.6" y="458.9" width="1.3" height="1.2" fill="#fff" stroke="none"/>
<rect x="214.7" y="452.2" width="1.3" height="1.2" fill="#fff" stroke="none"/>
<rect x="225.8" y="443.7" width="1.3" height="1.2" fill="#fff" stroke="none"/>
<rect x="236.9" y="435.3" width="1.3" height="1.2" fill="#fff" stroke="none"/>
<rect x="248.0" y="426.9" width="1.3" height="1.2" fill="#fff" stroke="none"/>
<rect x="259.1" y="418.4" width="1.3" height="1.2" fill="#fff" stroke="none"/>
<rect x="270.2" y="410.0" width="1.3" height="1.2" fill="#fff" stroke="none"/>
<rect x="281.3" y="401.5" width="1.3" height="1.2" fill="#fff" stroke="none"/>
<rect x="292.4" y="393.1" width="1.3" height="1.2" fill="#fff" stroke="none"/>
<rect x="303.5" y="384.6" width="1.3" height="1.2" fill="#fff" stroke="none"/>
<rect x="314.6" y="376.2" width="1.3" height="1.2" fill="#fff" stroke="none"/>
<rect x="325.7" y="367.7" width="1.3" height="1.2" fill="#fff" stroke="none"/>
<rect x="336.8" y="359.3" width="1.3" height="1.2" fill="#fff" stroke="none"/>
<rect x="347.9" y="349.1" width="1.3" height="1.2" fill="#fff" stroke="none"/>
<rect x="359.0" y="340.7" width="1.3" height="1.2" fill="#fff" stroke="none"/>
<rect x="370.1" y="332.2" width="1.3" height="1.2" fill="#fff" stroke="none"/>
<rect x="381.2" y="323.8" width="1.3" height="1.2" fill="#fff" stroke="none"/>
<rect x="392.3" y="315.4" width="1.3" height="1.2" fill="#fff" stroke="none"/>
<rect x="403.4" y="306.9" width="1.3" height="1.2" fill="#fff" stroke="none"/>
<rect x="414.5" y="298.5" width="1.3" height="1.2" fill="#fff" stroke="none"/>
<rect x="425.6" y="290.0" width="1.3" height="1.2" fill="#fff" stroke="none"/>
<rect x="436.7" y="281.6" width="1.3" height="1.2" fill="#fff" stroke="none"/>
<rect x="447.8" y="273.1" width="1.3" height="1.2" fill="#fff" stroke="none"/>
<path d="M167.2 491.8 L245.7 436.4 L377.6 334.4 L456.8 273.4"/>
<path d="M168.9 494.1 L248.2 439.6 L380.1 337.6 L459.3 276.6"/>
<path d="M170.7 496.4 L250.6 442.8 L382.5 340.8 L461.7 279.8" stroke-width="1.4"/>
<path d="M162.8 489.8 L165.3 496.7 L171.6 500.5 L177.9 499.2" stroke-width="1.7"/>
<path d="M452.5 267.8 L464.7 276.8 L461.5 279.5" stroke-width="2.1"/>
<path d="M187.9 516.2 L184.2 520.6 L187.9 526.3 L193 523.7 L300 441.5" stroke-width="2.1"/>
<path d="M187.9 516.2 L195.5 513.7 L197.4 509.3 L199.9 508 L300 431.4" stroke-width="2.1"/>
<path d="M193 516.8 L196.1 518.7" stroke-width="1.2"/>
<path d="M198 509.3 L199.9 514.3" stroke-width="1.2"/>
<path d="M300 431.4 L480.4 294.5 L484 299 L478 304" stroke-width="2.1"/>
<path d="M300 441.5 L470 312 L468.5 306 L478 304" stroke-width="2.1"/>
<path d="M111.5 538.7 C107.1 538.7 90.6 538 85.1 538.7 C79.7 539.3 80.3 540.3 78.8 542.7 C77.4 545 76.3 549.6 76.3 552.7 C76.3 555.9 77.4 559 78.8 561.5 C80.3 564 82.6 566.3 85.1 567.8 C87.6 569.3 91.2 569.4 93.9 570.3 C96.6 571.3 100.2 572.9 101.5 573.5" stroke-width="2.1"/>
<path d="M101.5 573.5 L149.2 556.5" stroke-width="2.1"/>
<path d="M149.2 556.5 C149 556 149.4 554.4 147.9 553.4 C146.5 552.3 142.1 550.2 140.4 550.2 C138.7 550.2 137.7 552.4 137.9 553.4 C138.1 554.3 141 555.5 141.7 555.9" stroke-width="2.1"/>
<path d="M134.1 544.6 C130.1 544.8 116.3 545.1 110.3 545.8 C104.2 546.6 100.4 547.4 97.7 549 C95 550.5 94.7 552.9 93.9 555.3 C93.2 557.6 92.9 560.5 93.3 562.8 C93.7 565.1 95.1 567.3 96.4 569.1 C97.8 570.9 100.6 572.7 101.5 573.5" stroke-width="2.1"/>
<path d="M111.5 538.7 C112.8 538 114.6 535.4 119 534.5 C123.4 533.6 134.3 532.7 137.9 533.3 C141.4 533.8 138.9 536.8 140.4 537.7 C141.9 538.5 145.4 538.8 146.7 538.3 C147.9 537.8 149.2 535.6 147.9 534.5 C146.7 533.5 140.6 532.4 139.1 532" stroke-width="2.1"/>
<path d="M115.3 542.1 L134.1 542.7 L147.9 538.9" stroke-width="2.1"/>
<path d="M134.1 544.6 C134.3 545.7 134.5 549.7 135.4 551.5 C136.2 553.3 138.5 554.6 139.1 555.3" stroke-width="2.1"/>
<path d="M98.9 556.5 C100.8 556 105.4 554.2 110.3 553.4 C115.1 552.5 124.9 551.8 127.8 551.5" stroke-width="1.2"/>
<ellipse cx="119" cy="559" rx="3.6" ry="4" stroke-width="1.4"/>
<path d="M122.8 556.5 L131.6 555.9" stroke-width="1.2"/>
<ellipse cx="127.8" cy="537.7" rx="3.6" ry="2.2" stroke-width="1.2"/>
<path d="M142.9 603 C144.2 602.9 148.1 602 150.5 602.4 C152.8 602.7 155.4 603.5 156.7 604.9 C158.1 606.2 158.7 608.6 158.6 610.5 C158.5 612.4 157.6 614.9 156.1 616.2 C154.6 617.4 151.8 618.2 149.8 618.1 C147.8 618 145.5 616.8 144.2 615.6 C142.8 614.3 141.9 612.6 141.7 610.5 C141.4 608.4 142.7 604.2 142.9 603" stroke-width="1.7"/>
<ellipse cx="152.3" cy="611.2" rx="5.2" ry="5.6" stroke-width="1.4"/>
<path d="M153.7 612.9 C153.6 612.9 153.5 613 153.3 613.1 C153.2 613.1 153.1 613.1 152.9 613.1 C152.8 613.2 152.6 613.2 152.5 613.1 C152.4 613.1 152.2 613.1 152.1 613.1 C152 613 151.8 613 151.7 612.9 C151.6 612.8 151.5 612.7 151.4 612.6 C151.3 612.5 151.2 612.4 151.1 612.3 C151 612.2 150.9 612.1 150.9 612 C150.8 611.8 150.8 611.7 150.8 611.6 C150.7 611.4 150.7 611.3 150.7 611.2 C150.7 611 150.7 610.9 150.8 610.7 C150.8 610.6 150.8 610.5 150.9 610.3 C150.9 610.2 151 610.1 151.1 610 C151.2 609.9 151.3 609.8 151.4 609.7 C151.5 609.6 151.6 609.5 151.7 609.4 C151.8 609.4 152 609.3 152.1 609.3 C152.2 609.2 152.4 609.2 152.5 609.2 C152.6 609.2 152.8 609.2 152.9 609.2 C153.1 609.2 153.2 609.2 153.3 609.3 C153.5 609.3 153.6 609.4 153.7 609.4" stroke-width="1.2"/>
<path d="M146.1 604.2 L145.4 615.6" stroke-width="1.2"/>
<path d="M200.2 607.7 L207.7 600.8 L340.9 572.6 L348.4 575.1" stroke-width="2.1"/>
<path d="M200.2 610.9 C197.7 611 189.1 610.6 185.1 611.5 C181.1 612.4 178.5 613.8 176.3 616.5 C174.1 619.3 172.4 624.5 171.9 627.8 C171.5 631.2 172.2 634.3 173.8 636.6 C175.4 638.9 179.2 640.5 181.4 641.7 C183.6 642.8 186.1 643.2 187 643.5" stroke-width="2.1"/>
<ellipse cx="193.9" cy="629.7" rx="11.3" ry="13.8" transform="rotate(12 193.9 629.7)" stroke-width="1.6"/>
<ellipse cx="193.3" cy="629.7" rx="5.8" ry="7.8" transform="rotate(12 193.3 629.7)" stroke-width="2.4"/>
<path d="M200.2 607.7 L202.7 610.3 L222.8 613.4 L225.3 614 L313.3 585.1" stroke-width="2.1"/>
<path d="M313.3 585.1 L313.9 593.9 L305.7 601.5 L269.3 619 L256.7 622.8" stroke-width="2.1"/>
<ellipse cx="215.9" cy="607.7" rx="5.6" ry="2" transform="rotate(-5 215.9 607.7)"/>
<path d="M210.3 612.8 L210.3 626.6" stroke-width="2.1"/>
<path d="M224.1 614 L223.4 627.8" stroke-width="2.1"/>
<path d="M210.3 626.6 C211.1 627 213.1 628.9 215.3 629.1 C217.5 629.3 222.1 628 223.4 627.8" stroke-width="2.1"/>
<path d="M204 615.3 C204.4 617 205.6 622.8 206.5 625.3 C207.3 627.8 206.7 629.1 209 630.4 C211.3 631.6 215.5 632.4 220.3 632.9 C225.1 633.3 232.4 633.9 237.9 632.9 C243.3 631.8 249.8 628.3 253 626.6 C256.1 624.9 256.1 623.4 256.7 622.8" stroke-width="1.7"/>
<path d="M225.3 621.6 L235.4 627.8 L237.9 632.9" stroke-width="2.1"/>
<path d="M204 615.3 L210.3 615.3" stroke-width="2.1"/>
<path d="M256.7 615.3 L256.7 622.8" stroke-width="2.1"/>
<path d="M259.2 613.4 L304.5 592" stroke-width="2.4"/>
<path d="M260.5 622.2 L307 601.5" stroke-width="2.4"/>
<path d="M261 613.1 L263.8 620.9" stroke-width="2.9"/>
<path d="M265.1 611.2 L267.9 619" stroke-width="2.9"/>
<path d="M269.2 609.3 L272 617" stroke-width="2.9"/>
<path d="M273.3 607.3 L276.1 615.1" stroke-width="2.9"/>
<path d="M277.5 605.4 L280.2 613.2" stroke-width="2.9"/>
<path d="M281.6 603.4 L284.3 611.2" stroke-width="2.9"/>
<path d="M285.7 601.5 L288.4 609.3" stroke-width="2.9"/>
<path d="M289.8 599.6 L292.5 607.3" stroke-width="2.9"/>
<path d="M293.9 597.6 L296.7 605.4" stroke-width="2.9"/>
<path d="M298 595.7 L300.8 603.5" stroke-width="2.9"/>
<path d="M302.1 593.7 L304.9 601.5" stroke-width="2.9"/>
<path d="M306.2 591.8 L309 599.6" stroke-width="2.9"/>
<path d="M259.2 613.4 C258.8 613.9 256.9 615.2 256.7 616.5 C256.5 617.9 257.4 620.6 258 621.6 C258.6 622.5 260.1 622.1 260.5 622.2" stroke-width="2.1"/>
<path d="M313.3 585.1 L340.9 578.8 L351 575.1" stroke-width="2.1"/>
<path d="M314.5 593.9 L348.4 587.6 L351 591.4 L315.8 597.7 L314.5 602.7 L305.7 604" stroke-width="2.1"/>
<path d="M348.3 575 L355.1 573.7 L362.7 570.6 L494.6 469.4 L500.9 470.1 L505.3 479.5 L504 480.1" stroke-width="2.1"/>
<path d="M355.1 576.9 L365.2 574.3 L492.1 476.4" stroke-width="1.5"/>
<path d="M348.8 586.9 L371.5 581.3 L504.6 479.5" stroke-width="2.1"/>
<ellipse cx="497.7" cy="478.2" rx="2.2" ry="2.2" stroke-width="1.8"/>
<path d="M479.1 493.8 C479.1 493.8 478.9 493.6 478.8 493.5 C478.7 493.4 478.6 493.3 478.5 493.2 C478.4 493.1 478.3 493 478.3 492.8 C478.2 492.7 478.2 492.6 478.2 492.4 C478.1 492.3 478.1 492.1 478.1 492 C478.1 491.9 478.2 491.7 478.2 491.6 C478.2 491.4 478.3 491.3 478.3 491.2 C478.4 491 478.5 490.9 478.6 490.8 C478.7 490.7 478.8 490.6 478.9 490.5 C479 490.4 479.1 490.3 479.2 490.3 C479.4 490.2 479.5 490.2 479.6 490.1 C479.8 490.1 479.9 490.1 480.1 490.1 C480.2 490.1 480.4 490.1 480.5 490.1 C480.6 490.1 480.8 490.2 480.9 490.2 C481 490.3 481.2 490.3 481.3 490.4 C481.4 490.5 481.5 490.6 481.6 490.7 C481.7 490.8 481.8 491 481.9 491.1" stroke-width="1.6"/>
<path d="M443.7 512.8 L448.7 509.6" stroke-width="2.4"/>
<path d="M417.9 532.9 L425.5 528.5" stroke-width="2.4"/>
<path d="M402 539.2H446" stroke="#fff" stroke-width="8" stroke-linecap="butt"/>
<path d="M402 538.3H442" stroke-width="1.25" stroke-linecap="butt"/>
<path d="M402 539.4H442" stroke-width="1.1" stroke-linecap="butt" stroke-dasharray="1 1"/>
<ellipse cx="249.8" cy="654.8" rx="13" ry="15" transform="rotate(8 249.8 654.8)" stroke-width="1.8"/>
<ellipse cx="249.8" cy="654.2" rx="6.5" ry="9.5" transform="rotate(8 249.8 654.2)" stroke-width="1.6"/>
<ellipse cx="248.6" cy="654.8" rx="10.5" ry="13" transform="rotate(8 248.6 654.8)" stroke-width="1.2"/>
<path d="M240.4 641.7 C239.4 641.7 235.8 640.8 234.1 641.7 C232.4 642.5 231 644.6 230.4 646.7 C229.7 648.8 229.7 652.2 230.4 654.2 C231 656.2 232.8 657.8 234.1 658.6 C235.5 659.5 237.8 659.1 238.5 659.2" stroke-width="2.1"/>
<path d="M255.9 642 C256.3 642.3 257.4 643.1 258.1 643.7 C258.8 644.4 259.4 645.1 259.9 645.9 C260.4 646.7 260.9 647.6 261.2 648.5 C261.6 649.5 261.8 650.5 262 651.5 C262.2 652.4 262.3 653.5 262.3 654.5 C262.2 655.5 262.1 656.6 261.9 657.6 C261.7 658.6 261.4 659.6 261 660.5 C260.6 661.5 260.2 662.4 259.6 663.2 C259.1 664.1 258.4 664.9 257.7 665.5 C257.1 666.2 256.3 666.8 255.5 667.3 C254.7 667.8 253.9 668.3 253 668.6 C252.2 668.9 251.3 669.1 250.4 669.2 C249.5 669.2 248.6 669.2 247.7 669.1 C246.8 669 245.9 668.7 245.1 668.4 C244.3 668 243.5 667.6 242.8 667 C242 666.5 241.3 665.8 240.7 665.1 C240.1 664.4 239.4 663.1 239.1 662.7" stroke-width="3.2"/>
<path d="M249.3 664.8 C249 664.8 248.2 664.8 247.7 664.7 C247.2 664.6 246.7 664.4 246.2 664.2 C245.8 664 245.3 663.6 244.9 663.2 C244.5 662.9 244.1 662.4 243.7 661.9 C243.4 661.4 243.1 660.8 242.9 660.2 C242.6 659.6 242.4 658.9 242.3 658.3 C242.1 657.6 242 656.9 242 656.1 C242 655.4 242 654.7 242.1 654 C242.1 653.2 242.3 652.5 242.4 651.8 C242.6 651.1 242.9 650.4 243.2 649.8 C243.4 649.1 243.8 648.5 244.1 647.9 C244.5 647.4 244.9 646.8 245.4 646.4 C245.8 645.9 246.3 645.5 246.8 645.2 C247.3 644.9 248 644.6 248.3 644.4" stroke-width="2.2"/>
<ellipse cx="305.7" cy="678.7" rx="11.3" ry="11.3" stroke-width="2.2"/>
<path d="M304.8 689.3 C304.4 689.2 303.2 689.1 302.5 688.8 C301.8 688.6 301 688.3 300.4 687.9 C299.7 687.5 299.1 687 298.5 686.5 C297.9 685.9 297.4 685.3 297 684.7 C296.5 684 296.2 683.3 295.9 682.6 C295.6 681.9 295.4 681.1 295.3 680.3 C295.1 679.6 295.1 678.8 295.2 678 C295.2 677.2 295.3 676.4 295.6 675.7 C295.8 675 296.1 674.2 296.5 673.5 C296.9 672.9 297.3 672.2 297.8 671.6 C298.4 671.1 299 670.5 299.6 670.1 C300.2 669.6 300.9 669.2 301.6 668.9 C302.4 668.6 303.5 668.4 303.9 668.3" stroke-width="3"/>
<path d="M311.5 673.2 C311.6 673.3 312.1 673.7 312.4 674 C312.6 674.3 312.9 674.6 313.1 675 C313.3 675.4 313.5 675.8 313.7 676.2 C313.8 676.6 313.9 677.1 314 677.5 C314 678 314.1 678.4 314.1 678.9 C314.1 679.3 314 679.8 313.9 680.3 C313.8 680.7 313.7 681.1 313.5 681.5 C313.4 681.9 313.2 682.3 312.9 682.7 C312.7 683.1 312.4 683.4 312.2 683.7 C311.9 684 311.6 684.2 311.2 684.4 C310.9 684.6 310.5 684.8 310.2 684.9 C309.8 685 309.4 685.1 309.1 685.1 C308.7 685.1 308.2 685 308 685" stroke-width="2.4"/>
<ellipse cx="308.9" cy="678.7" rx="5.8" ry="7" stroke-width="1.6"/>
<path d="M298.2 671.8 C297.8 673 295.6 676.2 295.7 678.7 C295.8 681.2 298.3 685.5 298.8 686.9"/>
<path d="M307.6 675.6 L306.4 682.5"/>
<ellipse cx="357.5" cy="702.5" rx="10.5" ry="10.3" stroke-width="2.2"/>
<path d="M359.1 711.8 C358.8 711.8 357.8 711.9 357.1 711.9 C356.4 711.9 355.7 711.8 355.1 711.6 C354.4 711.4 353.8 711.2 353.2 710.8 C352.6 710.5 352 710.1 351.5 709.7 C350.9 709.3 350.5 708.8 350 708.2 C349.6 707.7 349.3 707.1 349 706.5 C348.7 705.9 348.5 705.2 348.3 704.5 C348.2 703.9 348.1 703.2 348.1 702.5 C348.1 701.8 348.2 701.1 348.3 700.5 C348.5 699.8 348.7 699.1 349 698.5 C349.3 697.9 349.6 697.3 350 696.8 C350.5 696.2 351.2 695.5 351.5 695.3" stroke-width="4"/>
<path d="M357.5 692.7 C357.9 692.7 359 692.8 359.8 693 C360.5 693.1 361.2 693.4 361.9 693.7 C362.6 694.1 363.2 694.5 363.8 695 C364.4 695.5 364.9 696 365.4 696.6 C365.8 697.3 366.2 697.9 366.5 698.6 C366.8 699.3 367 700.4 367.2 700.8" stroke-width="2.8"/>
<ellipse cx="359.5" cy="703" rx="5.5" ry="6" stroke-width="1.5"/>
<path d="M351 694 C350.6 695.3 348.4 699.2 348.5 702 C348.6 704.8 351 709.5 351.5 711" stroke-width="1.2"/>
<ellipse cx="498.8" cy="765.7" rx="3.2" ry="3.8" transform="rotate(-20 498.8 765.7)" stroke-width="1.8"/>
<path d="M500.7 762 L517.7 767" stroke-width="2.1"/>
<path d="M500.1 770.1 L512.7 773.3" stroke-width="2.1"/>
<path d="M511.4 768.2 L513.9 772"/>
<path d="M515.2 767.6 L517.7 772"/>
<path d="M504.5 773.3 L504.5 792.1 L524.6 801.5 L525.9 782.7 L504.5 773.3" stroke-width="2.1"/>
<path d="M517.7 767 L530.3 762.6 L548.5 770.1 L539 777.7 L525.9 782.7" stroke-width="2.1"/>
<path d="M524.6 801.5 L539 802.2" stroke-width="2.1"/>
<path d="M549.1 770.1 L549.1 762 L574.2 771.4 L574.2 790.2 L562.9 796.5" stroke-width="2.1"/>
<path d="M550.4 770.1 L570.5 776.4 L566.7 778.3" stroke-width="1.4"/>
<ellipse cx="530.3" cy="792.1" rx="2.4" ry="2.8" stroke-width="1.5"/>
<ellipse cx="568.6" cy="784.6" rx="2.6" ry="2.8" stroke-width="1.5"/>
<path d="M530.3 786.5 L537.8 780.2" stroke-width="1.5"/>
<rect x="540.3" y="775.8" width="22" height="68.5" rx="10.5" ry="10.5" stroke-width="2" fill="#fff"/>
<path d="M539 781.4 C539.7 780.6 540.9 777.6 542.8 776.4 C544.7 775.3 547.8 774.5 550.4 774.5 C552.9 774.5 555.8 775 557.9 776.4 C560 777.8 562.1 781.6 562.9 782.7" stroke-width="1.4"/>
<path d="M544.1 791.5 L544.1 831.7" stroke-dasharray="1.2 0.9" stroke-linecap="butt" stroke-width="1.6"/>
<path d="M562.9 782.7 L562.9 831.7"/>
<path d="M540.3 817.2 C539.3 817.6 535.7 817.8 534 819.1 C532.3 820.5 530.9 822.9 530.3 825.4 C529.6 827.9 529.4 831.7 530.3 834.2 C531.1 836.7 532.8 838.8 535.3 840.5 C537.8 842.2 543.7 843.6 545.3 844.2" stroke-width="1.9"/>
<path d="M540.1 821.6 C539.5 822.5 537.1 824.6 536.5 826.7 C535.9 828.8 535.9 832.2 536.5 834.2 C537.2 836.2 539.7 837.9 540.3 838.6" stroke-width="1.4"/>
<path d="M563.5 811 C564.3 810.6 565.3 809.6 567.9 809.1 C570.6 808.5 575.9 807.6 579.2 807.8 C582.6 808 586.6 809.9 588 810.3" stroke-width="2.1"/>
<path d="M588 810.3 L680 786.5 L668.9 790.3 L712.9 777.7" stroke-width="2.1"/>
<path d="M712.9 777.7 C714.1 777.1 717.1 775.3 720.4 773.9 C723.8 772.6 726.7 771.3 733 769.5 C739.2 767.7 752.6 764.4 758.1 763.2 C763.5 762.1 763.1 762.2 765.6 762.6 C768.1 763 771.4 764 773.2 765.8 C774.9 767.5 776.1 770.9 776.3 773.3 C776.5 775.7 775.8 778.2 774.4 780.2 C773.1 782.2 769.2 784.4 768.1 785.2" stroke-width="2.1"/>
<path d="M768.1 785.2 L725.4 795.3" stroke-width="2.1"/>
<path d="M725.4 795.3 C724.6 795.1 722.1 794.6 720.4 794.3 C718.7 794 716.2 793.5 715.4 793.4" stroke-width="2.1"/>
<path d="M715.4 793.4 L640 814.1 L590.6 825.4" stroke-width="2.1"/>
<path d="M590.6 825.4 C588.9 826.4 585 830 580.5 831.7 C576 833.4 566.4 834.8 563.5 835.5" stroke-width="2.1"/>
<path d="M593.1 811.3 L643.3 798.4" stroke-dasharray="1.5 1" stroke-linecap="butt" stroke-width="1.4"/>
<path d="M668.9 791.8 L712.9 779.7" stroke-dasharray="1.5 1" stroke-linecap="butt" stroke-width="1.4"/>
<path d="M733 771 L756.8 765.1" stroke-dasharray="1.5 1" stroke-linecap="butt" stroke-width="1.4"/>
<path d="M566.7 811.6 L576.7 809.7" stroke-width="2.2"/>
<ellipse cx="767.5" cy="773.9" rx="6.2" ry="7" transform="rotate(15 767.5 773.9)" stroke-width="1.7"/>
<path d="M770 775.8 C769.9 775.9 769.7 776.2 769.6 776.4 C769.4 776.6 769.2 776.7 769.1 776.9 C768.9 777 768.7 777.1 768.4 777.2 C768.2 777.3 768 777.4 767.8 777.4 C767.5 777.5 767.3 777.5 767.1 777.5 C766.8 777.5 766.6 777.4 766.4 777.4 C766.1 777.3 765.9 777.2 765.7 777.1 C765.5 777 765.3 776.9 765.1 776.8 C764.9 776.6 764.8 776.5 764.6 776.3 C764.5 776.1 764.3 775.9 764.2 775.7 C764.1 775.5 764 775.3 764 775.1 C763.9 774.8 763.9 774.6 763.8 774.4 C763.8 774.1 763.8 773.9 763.9 773.7 C763.9 773.4 764 773.2 764.1 773 C764.1 772.8 764.3 772.6 764.4 772.4 C764.5 772.2 764.7 772 764.8 771.8 C765 771.7 765.2 771.5 765.4 771.4 C765.6 771.3 765.9 771.1 766 771.1"/>
<path d="M775.1 820.2 L774.4 805.8 L846.7 787.6 L866.8 797 L895.1 790.7 L895.1 795.7" stroke-width="2.1"/>
<path d="M774.4 805.8 L791.4 812.7 L846.7 796.4" stroke-width="1.5"/>
<path d="M791.4 812.7 L792 837.8" stroke-width="2.1"/>
<path d="M775.1 820.2 L790.2 815.2" stroke-width="1.4"/>
<path d="M797.7 798.2 C797.8 796.7 796.2 790.9 798.3 788.8 C800.4 786.7 806.4 785.4 810.3 785.7 C814.1 786 819.7 789.9 821.6 790.7" stroke-width="2.1"/>
<path d="M801.5 796.4 L807.7 787.6"/>
<path d="M846.7 787.6 L847.3 796.4" stroke-width="1.4"/>
<path d="M866.8 797 L867.4 827.8 L864.3 829 L859.2 827.1" stroke-width="2.1"/>
<path d="M800.2 811.4 C802.3 810.3 807.5 805.6 812.8 804.5 C818 803.5 828.5 805 831.6 805.2" stroke-width="2.1"/>
<path d="M831.6 805.2 L841.7 797.6 L864.3 807.7 L866.8 812.7" stroke-width="2.1"/>
<path d="M825.3 812.1 L831.6 808.9 L840.4 811.4 L847.9 812.7 L850.5 808.3" stroke-width="1.7"/>
<path d="M800.2 816.5 L814 820.2 L819 815.2" stroke-width="1.6"/>
<path d="M800.2 811.4 C799.2 813.1 795.3 817.1 793.9 821.5 C792.6 825.9 791.8 833.2 792 837.8 C792.2 842.4 793.2 845.8 795.2 849.1 C797.2 852.5 802.5 856.4 804 857.9" stroke-width="2.1"/>
<path d="M853 830.3 C852.9 832.8 853.4 841.2 852.3 845.4 C851.3 849.5 849.1 852.5 846.7 855.4 C844.3 858.3 839.4 861.7 837.9 862.9" stroke-width="2.1"/>
<path d="M804 857.9 C804.2 860.4 803.8 869.2 805.2 873 C806.7 876.8 809.8 878.4 812.8 880.5 C815.7 882.6 819 884.7 822.8 885.6 C826.6 886.4 831.2 886 835.4 885.6 C839.6 885.1 844.2 884.7 847.9 883 C851.7 881.4 855.9 878.9 858 875.5 C860.1 872.2 860.1 865 860.5 862.9" stroke-width="2.1"/>
<ellipse cx="803.3" cy="828.4" rx="5.6" ry="5.8" stroke-width="1.7"/>
<ellipse cx="857.4" cy="817.1" rx="5.6" ry="5.8" stroke-width="1.7"/>
<ellipse cx="831" cy="876.8" rx="5.6" ry="5.8" stroke-width="1.7"/>
<path d="M792.7 840.3 L804 840.3 L807.1 852.9" stroke-width="1.6"/>
<path d="M810.3 859.2 L821.6 865.5 L819 873 L822.8 883" stroke-width="1.6"/>
<path d="M837.9 862.9 L838.5 881.8" stroke-width="1.6"/>
<path d="M854.2 830.3 C855.3 832 858.6 836.1 860.5 840.3 C862.4 844.5 864.7 850.4 865.5 855.4 C866.4 860.4 866.4 865.9 865.5 870.5 C864.7 875.1 863 880.3 860.5 883 C858 885.8 853.6 886.4 850.5 886.8 C847.3 887.2 843.1 885.8 841.7 885.6" stroke-width="2.1"/>
<path d="M856.7 829 C858.2 830.9 863.4 835.7 865.5 840.3 C867.6 844.9 868.9 851.2 869.3 856.7 C869.7 862.1 868.7 868.8 868 873 C867.4 877.2 865.9 880.3 865.5 881.8" stroke-width="2.1"/>
<path d="M864.3 868 L863 875.5" stroke-width="1.4"/>
<path d="M863 829 C866.2 828.2 906.8 817.3 910.8 816.5 C914.7 815.7 920.9 816.8 922.1 817.1 C923.2 817.3 927.9 820 928.3 820.2" stroke-width="2.1"/>
<path d="M869.3 878 L928.3 862.9" stroke-width="2.1"/>
<path d="M928.3 820.2 C929.3 822.5 932.8 829.4 934 834 C935.1 838.7 935.4 844.1 935.3 847.9 C935.1 851.6 934.5 854.1 933.4 856.7 C932.2 859.2 929.2 861.9 928.3 862.9" stroke-width="2.1"/>
<path d="M932.1 822.7 C933.4 824.8 938.2 831.1 939.6 835.3 C941.1 839.5 941.3 844.9 940.9 847.9 C940.5 850.8 937.8 852.1 937.1 852.9" stroke-width="2.1"/>
<path d="M935.9 824 C937.2 825.7 942.6 831.3 944 834 C945.5 836.8 945 838 944.7 840.3 C944.4 842.6 942.6 846.6 942.2 847.9" stroke-width="2"/>
<path d="M786.4 849.1 C787.8 851.2 793.3 855.6 795.2 861.7 C797.1 867.8 797.3 881.6 797.7 885.6" stroke-width="2.1"/>
<path d="M797.7 885.6 L815.3 895.6 L814 912.9" stroke-width="2.1"/>
<path d="M801.5 883 L810.3 883" stroke-width="1.4"/>
<path d="M820.3 893.1 L841.7 886.8 L846.1 912.9" stroke-width="2.1"/>
<ellipse cx="775.1" cy="836.6" rx="12.5" ry="16" transform="rotate(10 775.1 836.6)" stroke-width="2.3"/>
<ellipse cx="780.1" cy="836.6" rx="6.2" ry="6.6" stroke-width="2.8"/>
<path d="M779.5 839.8 C779.4 839.8 779.1 839.7 778.8 839.6 C778.6 839.5 778.4 839.4 778.2 839.3 C778 839.1 777.8 839 777.7 838.8 C777.5 838.6 777.4 838.4 777.2 838.2 C777.1 838 777 837.8 777 837.6 C776.9 837.3 776.8 837.1 776.8 836.8 C776.8 836.6 776.8 836.4 776.8 836.1 C776.9 835.9 776.9 835.7 777 835.4 C777.1 835.2 777.2 835 777.3 834.8 C777.4 834.6 777.6 834.4 777.8 834.2 C777.9 834.1 778.1 833.9 778.3 833.8 C778.5 833.6 778.7 833.5 779 833.5 C779.2 833.4 779.4 833.3 779.7 833.3 C779.9 833.3 780.2 833.2 780.4 833.3 C780.6 833.3 780.9 833.3 781.1 833.4 C781.3 833.5 781.6 833.7 781.8 833.7"/>
<path d="M767.5 825.3 C767.1 826.7 765.2 830.7 765 834 C764.8 837.4 765.4 842.4 766.3 845.4 C767.1 848.3 769.4 850.6 770.1 851.6" stroke-width="1.5"/>
<path d="M752.7 824.8 L759.6 826 L758.4 830.5" stroke-width="2"/>
<path d="M765.3 851 L772.1 848.7" stroke-width="2"/>
<ellipse cx="887.5" cy="810.2" rx="13.8" ry="15" transform="rotate(15 887.5 810.2)" stroke-width="2.3"/>
<ellipse cx="891.3" cy="810.8" rx="6.8" ry="7.4" stroke-width="2.8"/>
<path d="M893.1 813.9 C893 814 892.6 814.2 892.4 814.2 C892.2 814.3 891.9 814.4 891.7 814.4 C891.4 814.4 891.2 814.4 890.9 814.4 C890.7 814.4 890.4 814.3 890.2 814.2 C889.9 814.2 889.7 814 889.5 813.9 C889.3 813.8 889.1 813.6 888.9 813.5 C888.7 813.3 888.5 813.1 888.4 812.9 C888.2 812.7 888.1 812.5 888 812.3 C887.9 812 887.8 811.8 887.8 811.6 C887.7 811.3 887.7 811.1 887.7 810.8 C887.7 810.6 887.7 810.3 887.8 810.1 C887.8 809.8 887.9 809.6 888 809.3 C888.1 809.1 888.2 808.9 888.4 808.7 C888.5 808.5 888.7 808.3 888.9 808.1 C889.1 808 889.3 807.8 889.5 807.7 C889.7 807.6 889.9 807.5 890.2 807.4 C890.4 807.3 890.7 807.2 890.9 807.2 C891.2 807.2 891.4 807.2 891.7 807.2 C891.9 807.2 892.2 807.3 892.4 807.4 C892.6 807.5 893 807.6 893.1 807.7"/>
<path d="M880.6 798.9 C879.9 800.3 876.6 804.3 876.2 807.7 C875.8 811 877.8 817.1 878.1 819" stroke-width="1.4"/>
<ellipse cx="832.4" cy="910.1" rx="13" ry="14" transform="rotate(10 832.4 910.1)" stroke-width="2.4"/>
<ellipse cx="835.1" cy="911.3" rx="6.8" ry="7.4" stroke-width="2.8"/>
<path d="M836.9 914.4 C836.8 914.4 836.4 914.6 836.2 914.7 C836 914.8 835.7 914.8 835.5 914.9 C835.2 914.9 835 914.9 834.7 914.9 C834.5 914.8 834.2 914.8 834 914.7 C833.7 914.6 833.5 914.5 833.3 914.4 C833.1 914.3 832.9 914.1 832.7 913.9 C832.5 913.8 832.3 913.6 832.2 913.4 C832 913.2 831.9 913 831.8 912.7 C831.7 912.5 831.6 912.3 831.6 912 C831.5 911.8 831.5 911.5 831.5 911.3 C831.5 911 831.5 910.8 831.6 910.5 C831.6 910.3 831.7 910 831.8 909.8 C831.9 909.6 832 909.4 832.2 909.2 C832.3 909 832.5 908.8 832.7 908.6 C832.9 908.4 833.1 908.3 833.3 908.2 C833.5 908 833.7 907.9 834 907.9 C834.2 907.8 834.5 907.7 834.7 907.7 C835 907.7 835.2 907.7 835.5 907.7 C835.7 907.7 836 907.8 836.2 907.9 C836.4 907.9 836.8 908.1 836.9 908.2"/>
<path d="M825.5 898.8 C824.6 900.3 820.6 904.4 819.9 907.9 C819.1 911.3 820.8 917.3 821 919.2" stroke-width="1.4"/>
<path d="M808.5 899.9 L813 898.8 L814.2 905.6" stroke-width="2.2"/>
<path d="M813 909 L817.6 919.2" stroke-width="2"/>
<path d="M875.6 123.1 L884.6 124.1 L888.3 126.4 L890.7 131.7 L896.5 134.2 L896.1 141.6 L889.5 141.6 L884.6 141.6 L881.3 142.4 L877.2 141.6 L871.1 136.2 L870.2 130.5 L871.9 126 L875.6 123.1" stroke-width="2.9"/>
<path d="M876.8 127.2 L881.3 125.6 L887.9 129.3 L883 137.9 L877.2 129.7 L876.8 127.2" stroke-width="2.4"/>
<path d="M873.5 131.7 L879.7 138.7" stroke-width="2.4"/>
<path d="M881.3 131.3 L884.6 131.3 L882.1 135" stroke-width="2.2"/>
<path d="M891.1 135.4 L896.1 135.4" stroke-width="2.4"/>
<path d="M887.9 134.6 L888.3 141.1" stroke-width="2.4"/>
<path d="M840.7 177.3 L852.6 174.1 L862.7 182.9 L862 193 L857.6 194.2 L857 190.5 L840.7 193.6 L840.7 177.3" stroke-width="2"/>
<path d="M852 175.4 L852.6 188 L858.9 188.6" stroke-width="1.5"/>
<path d="M857 181.7 L860.2 185.5" stroke-width="1.5"/>
<path d="M840.7 177.3 C849.8 174.7 876.2 166.9 895.3 161.6 C914.5 156.2 940.3 149.3 955.6 145.3 C970.9 141.2 974.6 139.8 987 137.1 C999.4 134.4 1022 130.6 1030 128.9 C1038 127.2 1026.7 128.7 1035.1 127.1 C1043.5 125.4 1066.7 121.1 1080.4 118.9 C1094 116.7 1106.1 115.2 1116.8 113.9 C1127.5 112.5 1137.3 111.1 1144.4 110.7 C1151.5 110.3 1157 111.3 1159.5 111.4" stroke-width="2.1"/>
<path d="M853.2 176 L895.3 163.8" stroke-width="1.6"/>
<path d="M939.3 157.8 L956.9 150.3 L960.7 161" stroke-width="1.5"/>
<path d="M895.3 163.5 L907.9 163.5 L912.9 159.1 L939.3 157.8" stroke-width="1.6"/>
<path d="M956.9 145.5 L972 147.1 L984.5 143.4 L999.6 137.7 L1004.6 140.2 L1030 133.3" stroke-width="1.6"/>
<path d="M972 147.1 L983.3 142.1 L985.2 143.4" stroke-width="1.4"/>
<path d="M862.7 185.5 C870.2 183.6 897.4 176.3 907.9 174.1 C918.4 171.9 922.5 172.6 925.5 172.3" stroke-width="2.1"/>
<path d="M925.5 172.3 L926.7 179.2 L934.3 177.9 L949.3 175.4 L955.6 173.5" stroke-width="2"/>
<path d="M867.7 182.9 L917.9 173.5" stroke-dasharray="1.5 1" stroke-linecap="butt" stroke-width="1.5"/>
<path d="M928 175.4 L946.8 172.3" stroke-width="1.5"/>
<path d="M940.6 156.6 L956.9 156.6 L959.4 160.3 L963.2 165.4 L966.9 171.6 L955.6 173.5 L945.6 169.1 L944.3 159.1" stroke-width="2.2"/>
<path d="M948.1 160.3 L950.6 169.1 L955.6 170.4 L953.7 161.6" stroke-width="2"/>
<path d="M912.9 159.1 L940.6 156.6" stroke-width="1.6"/>
<path d="M960.7 161 C966.1 159.8 981.8 156.9 993.3 154 C1004.9 151.2 1025.3 147.6 1030 144 C1034.7 140.4 1017.7 135.6 1021.3 132.7 C1024.9 129.8 1043.3 127.9 1051.5 126.4 C1059.6 125 1063.8 125 1070.3 123.9 C1076.8 122.9 1087.1 120.8 1090.4 120.2" stroke-width="1.6"/>
<path d="M1090.4 120.2 L1092.9 122.7 L1120.6 115.8 L1146.9 113.9" stroke-width="1.6"/>
<path d="M963.2 165.4 C968.2 164.1 982.2 160.5 993.3 157.8 C1004.5 155.1 1026 150.3 1030 149 C1034 147.8 1015.3 151.1 1017.5 150.3 C1019.8 149.5 1039 145.1 1043.3 144" stroke-width="1.6"/>
<path d="M1010 149 L1043.9 140.3" stroke-width="1.6"/>
<path d="M1043.9 132.7 L1043.9 147.8 L1047.7 149 L1054 145.3 L1061.5 149 L1066.5 147.8 L1065.3 140.3 L1057.7 131.5 L1043.9 132.7" stroke-width="2"/>
<path d="M1054 132.7 L1055.2 145.3" stroke-dasharray="1.5 1" stroke-linecap="butt" stroke-width="1.5"/>
<path d="M1057.7 134 L1062.8 146.5" stroke-width="1.5"/>
<path d="M1144.4 110.7 L1159.5 111.4 L1155.7 115.1 L1155.7 125.2 L1162 127.1 L1154.5 130.2 L1146.9 123.9 L1146.9 113.9" stroke-width="2.2"/>
<path d="M1149.4 115.1 L1153.2 126.4" stroke-width="1.6"/>
<path d="M1146.9 123.9 C1141.9 124.5 1127 126 1116.8 127.7 C1106.5 129.4 1094 131.9 1085.4 134 C1076.8 136.1 1068.6 139.2 1065.3 140.3" stroke-width="2.1"/>
<path d="M1153.2 127.7 C1147.4 128.3 1128.9 129.8 1118 131.5 C1107.2 133.1 1096.1 135.9 1087.9 137.7 C1079.7 139.6 1072.2 141.9 1069 142.8" stroke-width="1.6"/>
<path d="M890.8 207.1 L888.9 210.8 L881.4 212.1 L881.4 204.5 L1035.9 170 L1177.1 135.9 L1180.9 136.5 L1180.9 141.5 L1173.3 145.3 L1170.8 141.5 L1165.8 144 L1165.8 146.5" stroke-width="2.1"/>
<path d="M890.8 207.1 L896.4 205.8 L897.7 208.9 L1060 172.5 L1165.8 146.5" stroke-width="2.1"/>
<path d="M883.9 228.4 C883 228.9 879.7 230.2 878.8 231.6 C878 232.9 878 235.2 878.8 236.6 C879.7 237.9 882 239.3 883.9 239.7 C885.8 240.1 889.1 239.2 890.2 239.1" stroke-width="2"/>
<path d="M883.9 228.4 L1060 188.2 L1177.1 161 L1183.4 161.6 L1189.6 166.6 L1185.9 170.4" stroke-width="2.1"/>
<path d="M890.2 239.1 L1060 199.9 L1185.9 170.4" stroke-width="2.1"/>
<path d="M887 231.6 L1060 191.6 L1178.3 164.1" stroke-dasharray="5 1.6" stroke-linecap="butt" stroke-width="2.6"/>
<path d="M888.3 235.6 L1060 195.8 L1184.6 167.6" stroke-dasharray="4 1.8" stroke-linecap="butt" stroke-width="2.6"/>
<path d="M893.9 258.6 L892.7 261.7 L884.5 262.3 L884.5 255.4 L891.4 253.5 L895.2 256.7 L900.2 256.7 L900.2 252.3 L1060 213.3 L1160.8 190.5 L1170.8 191.8 L1172.1 195.5" stroke-width="2.1"/>
<path d="M893.9 258.6 L1060 220.3 L1178.3 195.5 L1184.6 194.3 L1184.6 187.4 L1173.3 188 L1173.3 192.4" stroke-width="2.1"/>
<path d="M976.7 266.9 C971.3 270.1 918.4 301.4 912.6 305.3 C906.8 309.1 907.5 311.4 906.9 312.8 C906.4 314.1 905.5 320.2 905.7 321.6 C905.8 322.9 908 328.1 908.8 329.1 C909.6 330.1 913.7 332.8 915.1 333.5 C916.5 334.3 924.3 337.5 925.2 337.9" stroke-width="2.1"/>
<path d="M925.2 337.9 L932.7 337.9 L982.9 309 L1014.3 301.5" stroke-width="2.1"/>
<path d="M1013.7 272 C1011.2 272.7 990.2 277.8 982.9 281.4 C975.7 285 931.4 311.8 926.4 315.3 C921.4 318.8 923 321.6 922.6 322.8 C922.3 324.1 922.4 329.1 922.6 330.4 C922.8 331.6 924.9 337.3 925.2 337.9" stroke-width="2.1"/>
<path d="M976.7 266.9 L994.2 266.9 L1001.8 268.2 L1005.6 263.8 L1013.1 267.6 L1013.7 272" stroke-width="2"/>
<path d="M1005.6 263.8 L1004.3 270.1 L1001.8 271.3" stroke-width="2"/>
<path d="M994.9 279.5 L994.9 293.9 L1001.8 297.7 L1005.6 292.7 L1013.7 295.8 L1014.3 301.5" stroke-width="2"/>
<path d="M1005.6 292.7 L1004.9 298.3" stroke-width="2"/>
<path d="M982.9 272.6 L991.7 272.6" stroke-width="2.2"/>
<path d="M979.2 293.9 L991.7 292.7" stroke-width="2"/>
<path d="M982.9 299.6 L991.7 300.2" stroke-width="2"/>
<path d="M927.7 324.1 L972.9 297.1" stroke-width="1.6"/>
<ellipse cx="968.5" cy="306.5" rx="4.2" ry="5.6" transform="rotate(10 968.5 306.5)" stroke-width="1.8"/>
<ellipse cx="980.4" cy="344.8" rx="9.4" ry="8.8" stroke-width="2"/>
<ellipse cx="982.3" cy="345.5" rx="6.2" ry="6.2" stroke-width="1.6"/>
<path d="M983.7 347.6 C983.6 347.6 983.4 347.7 983.2 347.8 C983.1 347.8 982.9 347.9 982.8 347.9 C982.6 347.9 982.5 347.9 982.3 347.9 C982.2 347.9 982 347.8 981.9 347.8 C981.7 347.7 981.6 347.7 981.5 347.6 C981.3 347.5 981.2 347.4 981.1 347.3 C981 347.2 980.9 347.1 980.8 347 C980.7 346.9 980.6 346.7 980.6 346.6 C980.5 346.5 980.4 346.3 980.4 346.2 C980.4 346 980.4 345.9 980.4 345.7 C980.4 345.6 980.4 345.4 980.4 345.2 C980.4 345.1 980.5 344.9 980.6 344.8 C980.6 344.7 980.7 344.5 980.8 344.4 C980.9 344.3 981 344.2 981.1 344.1 C981.2 344 981.3 343.9 981.5 343.8 C981.6 343.7 981.7 343.7 981.9 343.6 C982 343.6 982.2 343.5 982.3 343.5 C982.5 343.5 982.6 343.5 982.8 343.5 C982.9 343.5 983.1 343.6 983.2 343.6 C983.4 343.7 983.6 343.8 983.7 343.8"/>
<path d="M974.8 338.5 L973.5 350.5" stroke-width="1.4"/>
<path d="M1069.6 310.3 C1064.9 313.6 1018.3 346.4 1013.1 350.5 C1007.9 354.6 1008 357.8 1007.4 359.3 C1006.9 360.7 1006.5 366.7 1006.8 368.1 C1007.1 369.4 1009.5 374.7 1010.6 375.6 C1011.6 376.5 1018 378.8 1019.4 379.4 C1020.7 379.9 1026.3 381.7 1026.9 381.9" stroke-width="2.1"/>
<ellipse cx="1028.8" cy="366.8" rx="12" ry="14.6" transform="rotate(18 1028.8 366.8)" stroke-width="2"/>
<ellipse cx="1028.2" cy="366.8" rx="5.8" ry="8.8" transform="rotate(18 1028.2 366.8)" stroke-width="2.4"/>
<path d="M1034.4 380.6 L1054.5 363" stroke-width="2.1"/>
<path d="M1028.2 352.4 L1070.9 320.3" stroke-width="2.1"/>
<path d="M1068.8 310.2 L1143 303.9 L1173.1 295.8 L1178.1 299.5 L1213.3 293.9 L1223.4 286.3 L1229.6 285.7" stroke-width="2.1"/>
<ellipse cx="1083.3" cy="315.9" rx="8.2" ry="3.2" transform="rotate(-3 1083.3 315.9)" stroke-width="1.8"/>
<path d="M1068.8 310.2 L1068.8 342.9" stroke-width="2.1"/>
<path d="M1090.2 325.3 L1090.2 341.6" stroke-width="2.1"/>
<path d="M1068.8 342.9 C1070.7 343.7 1076.6 348.1 1080.2 347.9 C1083.7 347.7 1088.5 342.7 1090.2 341.6" stroke-width="2.1"/>
<path d="M1076.4 330.3 L1077 342.9 L1087.7 343.5" stroke-width="2"/>
<path d="M1091.5 324 L1144.2 307.7 L1145.5 303.9" stroke-width="2.1"/>
<path d="M1092.7 332.8 L1135.4 314" stroke-width="1.5"/>
<path d="M1094 342.9 L1137.9 322.8" stroke-width="1.5"/>
<path d="M1094.8 331.9 L1098.1 340.1" stroke-width="2.2"/>
<path d="M1098.6 330.3 L1101.8 338.5" stroke-width="2.2"/>
<path d="M1102.3 328.7 L1105.5 336.8" stroke-width="2.2"/>
<path d="M1106 327 L1109.2 335.2" stroke-width="2.2"/>
<path d="M1109.7 325.4 L1112.9 333.6" stroke-width="2.2"/>
<path d="M1113.4 323.8 L1116.6 331.9" stroke-width="2.2"/>
<path d="M1117.1 322.1 L1120.4 330.3" stroke-width="2.2"/>
<path d="M1120.8 320.5 L1124.1 328.7" stroke-width="2.2"/>
<path d="M1124.5 318.9 L1127.8 327" stroke-width="2.2"/>
<path d="M1128.2 317.2 L1131.5 325.4" stroke-width="2.2"/>
<path d="M1131.9 315.6 L1135.2 323.8" stroke-width="2.2"/>
<path d="M1131.7 314 L1137.9 313.3 L1136.7 321.5" stroke-width="2.4"/>
<path d="M1144.2 307.7 L1148 315.2 L1137.9 326.5 L1097.7 345.4 L1091.5 344.1" stroke-width="2.1"/>
<path d="M1145.5 305.8 L1175.6 297.4" stroke-width="2.1"/>
<path d="M1150.5 308.3 L1174.4 301.7" stroke-width="2.6"/>
<path d="M1149.2 309.6 L1179.4 301.2" stroke-width="1.5"/>
<path d="M1181.9 310.8 L1214.4 302.8" stroke-width="1.8"/>
<path d="M1137.9 326.5 L1181.9 314" stroke-width="1.6"/>
<path d="M1140.5 323.4 L1180.7 312.1 L1181.9 314" stroke-width="1.6"/>
<path d="M1120.4 350.4 L1223.4 325.3" stroke-width="2.1"/>
<path d="M1111.6 366.7 L1223.4 335.3" stroke-width="2.1"/>
<path d="M1154.3 340.4 L1217.1 326.5" stroke-width="2.8"/>
<path d="M1099 351.7 L1120.4 350.4 L1122.2 357.9 L1150.5 356.7 L1143 359.2 L1111.6 366.7 L1110.3 357.9" stroke-width="2.1"/>
<path d="M1116.6 351.7 L1117.8 357.9" stroke-width="1.5"/>
<path d="M1091.5 352.3 L1083.9 357.9 L1071.4 355.4" stroke-width="2.1"/>
<path d="M1097.7 352.9 L1091.5 370.5 L1086.4 376.8" stroke-width="2.2"/>
<path d="M1116.6 342.9 C1120.1 342.3 1133.1 339.7 1137.9 339.7 C1142.8 339.7 1143.2 342.3 1145.5 342.9 C1147.8 343.4 1150.7 342.9 1151.8 342.9" stroke-width="1.6"/>
<path d="M1058.8 347.9 C1059 348.5 1058.4 351.2 1060.1 351.7 C1061.7 352.1 1063.6 350.3 1068.8 350.4 C1074.1 350.5 1087.7 352 1091.5 352.3" stroke-width="2"/>
<path d="M1058.8 356.7 C1058.2 357.3 1055.4 358.8 1055 360.5 C1054.6 362.1 1055.2 365.1 1056.3 366.7 C1057.3 368.4 1058.8 369 1061.3 370.5 C1063.8 372 1067 374.5 1071.4 375.5 C1075.8 376.6 1085 376.6 1087.7 376.8" stroke-width="2.4"/>
<ellipse cx="1066.3" cy="363.6" rx="4.5" ry="8" transform="rotate(15 1066.3 363.6)" stroke-width="3"/>
<ellipse cx="1073.2" cy="367.4" rx="3.8" ry="6.5" transform="rotate(15 1073.2 367.4)" stroke-width="3.2"/>
<path d="M1062.6 356.7 L1070.1 374.3" stroke-width="2.6"/>
<path d="M1078.3 369.2 L1086.4 374.3" stroke-width="3.4"/>
<path d="M1077.6 365.5 L1081.4 373 L1087.7 369.2 L1085.2 365.5" stroke-width="2.4"/>
<path d="M1068.8 356.7 L1087.7 363 L1091.5 352.3" stroke-width="1.6"/>
<path d="M1195 295.2 L1213.8 291.5 L1221.4 285.5 L1227.7 285.5 L1238.3 290.2 L1266 285.5 L1271.3 287.1 L1271.3 296.2 L1266 294.6 L1247.1 299.6" stroke-width="2.2"/>
<path d="M1266 285.5 L1266 294.6" stroke-width="3"/>
<path d="M1195 307.2 L1214.5 302.8 L1214.5 292.1" stroke-width="2"/>
<path d="M1222 287.7 L1222.6 313.5 L1230.2 319.7 L1233.9 334.8 L1239 340.5" stroke-width="2.2"/>
<path d="M1230.2 290.8 L1224.5 297.1 L1224.5 312.2 L1232.1 318.5" stroke-width="2"/>
<path d="M1231.4 295.9 L1239 295.2 L1246.5 299.6 L1247.8 307.2 L1244 308.4 L1236.5 307.2 L1231.4 302.2 L1231.4 295.9" stroke-width="2.4"/>
<path d="M1235.2 299 L1239 305.9 L1244.6 309.7" stroke-width="3"/>
<path d="M1228.9 311.6 L1244.6 309.7 L1250.3 317.2 L1250.3 328.5 L1255.3 330.4" stroke-width="2"/>
<path d="M1239 320.4 L1247.1 318.8" stroke-width="1.8"/>
<path d="M1239 328.5 L1246.5 327.3 L1255.3 330.4 L1256.6 334.8 L1252.8 341" stroke-width="2.2"/>
<ellipse cx="1249" cy="334.8" rx="4.6" ry="5" stroke-width="2"/>
<path d="M1195 331 L1222.6 321.6" stroke-width="2"/>
<path d="M1225.2 324.1 L1230.2 324.1" stroke-width="2"/>
<path d="M1222.6 321.6 L1224.5 334.8 L1232.7 338.6" stroke-width="2"/>
<ellipse cx="1124.7" cy="389.3" rx="9.3" ry="9.6" stroke-width="2.4"/>
<path d="M1130.4 383.7 C1129.4 383.6 1125.6 382.3 1124.1 383.1 C1122.7 383.8 1121.6 386 1121.6 388.1 C1121.6 390.2 1123.7 394.4 1124.1 395.6" stroke-width="1.8"/>
<path d="M1125.4 383.7 L1130.4 384.3 L1131.7 394.4" stroke-width="1.5"/>
<path d="M1168.9 418.2 C1167.6 418.3 1163.5 417.9 1161.4 418.8 C1159.3 419.7 1157.3 421.5 1156.3 423.8 C1155.4 426.1 1155.3 430.4 1155.7 432.6 C1156.1 434.8 1157.7 436.1 1158.8 437 C1160 438 1162 438.1 1162.6 438.3" stroke-width="1.8"/>
<ellipse cx="1175.2" cy="433.2" rx="13.5" ry="15.2" transform="rotate(10 1175.2 433.2)" stroke-width="2.2"/>
<ellipse cx="1173.3" cy="432.6" rx="11" ry="13.5" transform="rotate(10 1173.3 432.6)" stroke-width="1.4"/>
<ellipse cx="1174.9" cy="432" rx="6.6" ry="10.2" transform="rotate(10 1174.9 432)" stroke-width="2"/>
<path d="M1187.7 430.5 C1187.7 431 1187.9 432.6 1187.8 433.6 C1187.7 434.7 1187.6 435.7 1187.3 436.7 C1187 437.7 1186.7 438.7 1186.2 439.6 C1185.8 440.6 1185.2 441.5 1184.6 442.3 C1184 443.1 1183.3 443.8 1182.5 444.4 C1181.8 445.1 1180.9 445.6 1180.1 446.1 C1179.2 446.5 1178.3 446.8 1177.4 447.1 C1176.5 447.3 1175.5 447.4 1174.6 447.4 C1173.7 447.4 1172.7 447.3 1171.9 447 C1171 446.8 1170.1 446.5 1169.3 446 C1168.4 445.6 1167.6 445 1166.9 444.4 C1166.2 443.7 1165.6 443 1165 442.2 C1164.5 441.4 1164 440.5 1163.6 439.5 C1163.2 438.6 1163 437.6 1162.8 436.6 C1162.6 435.6 1162.6 434 1162.5 433.5" stroke-width="3.2"/>
<path d="M1175.4 442.3 C1175.1 442.4 1174.3 442.6 1173.8 442.6 C1173.2 442.6 1172.7 442.6 1172.2 442.4 C1171.7 442.2 1171.2 442 1170.7 441.7 C1170.3 441.3 1169.9 440.9 1169.5 440.5 C1169.1 440 1168.8 439.4 1168.5 438.8 C1168.2 438.3 1167.9 437.6 1167.8 436.9 C1167.6 436.2 1167.5 435.5 1167.4 434.7 C1167.3 434 1167.3 433.2 1167.4 432.4 C1167.4 431.7 1167.6 430.9 1167.7 430.1 C1167.9 429.4 1168.1 428.6 1168.4 427.9 C1168.7 427.2 1169 426.5 1169.4 425.9 C1169.8 425.3 1170.2 424.7 1170.6 424.2 C1171.1 423.7 1171.6 423.2 1172.1 422.9 C1172.6 422.5 1173.1 422.2 1173.6 422 C1174.2 421.8 1175 421.7 1175.3 421.6" stroke-width="2.4"/>
<ellipse cx="1234.8" cy="459.6" rx="11.8" ry="11.3" stroke-width="2.4"/>
<path d="M1234.8 470.6 C1234.5 470.6 1233.3 470.5 1232.6 470.4 C1231.8 470.2 1231.1 470 1230.4 469.7 C1229.7 469.4 1229 469 1228.4 468.5 C1227.8 468.1 1227.2 467.6 1226.7 467 C1226.2 466.4 1225.7 465.8 1225.3 465.1 C1224.9 464.5 1224.6 463.7 1224.4 463 C1224.2 462.3 1224 461.5 1223.9 460.8 C1223.8 460 1223.8 459.2 1223.9 458.5 C1224 457.7 1224.2 456.9 1224.4 456.2 C1224.6 455.5 1224.9 454.8 1225.3 454.1 C1225.7 453.5 1226.2 452.8 1226.7 452.3 C1227.2 451.7 1227.8 451.2 1228.4 450.7 C1229 450.3 1229.7 449.9 1230.4 449.6 C1231.1 449.3 1231.8 449 1232.6 448.9 C1233.3 448.7 1234.5 448.7 1234.8 448.6" stroke-width="3"/>
<path d="M1239.3 454.2 C1239.5 454.3 1240 454.6 1240.4 454.8 C1240.7 455.1 1241 455.4 1241.3 455.7 C1241.6 456 1241.8 456.4 1242.1 456.8 C1242.3 457.1 1242.5 457.6 1242.6 458 C1242.7 458.4 1242.8 458.9 1242.9 459.3 C1243 459.8 1243 460.2 1242.9 460.7 C1242.9 461.1 1242.9 461.6 1242.7 462 C1242.6 462.5 1242.5 462.9 1242.3 463.3 C1242.1 463.7 1241.9 464.1 1241.6 464.4 C1241.3 464.8 1241 465.1 1240.7 465.4 C1240.4 465.6 1240.1 465.9 1239.7 466.1 C1239.3 466.3 1238.9 466.4 1238.6 466.5 C1238.2 466.6 1237.6 466.6 1237.4 466.7" stroke-width="2.4"/>
<ellipse cx="1237.4" cy="460.3" rx="6.2" ry="7" stroke-width="1.8"/>
<path d="M1227.9 451.5 C1227.5 452.8 1225.3 456.8 1225.4 459.6 C1225.5 462.4 1228 467 1228.6 468.4" stroke-width="1.4"/>
<path d="M1239.2 455.2 L1235.5 465.3" stroke-width="1.4"/>
<path d="M1283.2 448.3 C1284.2 448.6 1289.1 448.9 1290.8 450.2 C1292.4 451.5 1294.9 455.1 1295.8 457.7 C1296.7 460.4 1297.3 467 1297.7 470.3 C1298 473.7 1298.8 480 1298.3 482.9 C1297.8 485.7 1295.9 489.9 1293.9 491.7 C1291.9 493.4 1286 496.1 1283.2 496.1 C1280.5 496.1 1275 493.4 1273.2 491.7 C1271.3 489.9 1269.8 485.7 1269.4 482.9 C1269 480 1269.6 473.7 1270 470.3 C1270.4 467 1271.6 460.4 1272.5 457.7 C1273.5 455.1 1275.5 451.5 1276.9 450.2 C1278.4 448.9 1282.4 448.6 1283.2 448.3" stroke-width="2.2"/>
<path d="M1285.7 452.7 C1284.5 453.1 1280 453.1 1278.2 455.2 C1276.4 457.3 1275.7 461.1 1275.1 465.3 C1274.4 469.5 1274.1 476.4 1274.4 480.4 C1274.7 484.3 1275.5 487.1 1276.9 489.1 C1278.4 491.2 1282.2 492.3 1283.2 492.9" stroke-width="1.8"/>
<path d="M1276.3 452.1 C1275.6 453.4 1273 456.8 1271.9 460.3 C1270.9 463.7 1270.2 468.6 1270 472.8 C1269.8 477 1269.8 482 1270.7 485.4 C1271.5 488.7 1274.3 491.7 1275.1 492.9" stroke-width="2.8"/>
<path d="M1291.4 464.7 C1291.3 464.8 1291 465.2 1290.7 465.5 C1290.4 465.7 1290.1 465.9 1289.8 466 C1289.5 466.2 1289.1 466.3 1288.8 466.4 C1288.4 466.5 1288.1 466.5 1287.7 466.5 C1287.4 466.5 1287 466.5 1286.7 466.4 C1286.3 466.4 1286 466.2 1285.7 466.1 C1285.3 466 1285 465.8 1284.7 465.6 C1284.4 465.4 1284.2 465.2 1283.9 464.9 C1283.7 464.6 1283.5 464.3 1283.3 464 C1283.1 463.7 1283 463.4 1282.9 463.1 C1282.8 462.7 1282.7 462.4 1282.6 462 C1282.6 461.7 1282.6 461.3 1282.6 461 C1282.7 460.6 1282.8 460.3 1282.9 459.9 C1283 459.6 1283.1 459.3 1283.3 459 C1283.5 458.7 1283.7 458.4 1283.9 458.1 C1284.2 457.9 1284.4 457.6 1284.7 457.4 C1285 457.2 1285.3 457 1285.7 456.9 C1286 456.8 1286.3 456.7 1286.7 456.6 C1287 456.5 1287.4 456.5 1287.7 456.5 C1288.1 456.5 1288.4 456.6 1288.8 456.6 C1289.1 456.7 1289.5 456.8 1289.8 457 C1290.1 457.2 1290.4 457.3 1290.7 457.6 C1291 457.8 1291.3 458.2 1291.4 458.3" stroke-width="1.8"/>
<path d="M1292.8 487.9 C1292.6 488 1292.2 488.6 1291.8 488.9 C1291.4 489.2 1291 489.4 1290.6 489.6 C1290.1 489.8 1289.7 490 1289.2 490.1 C1288.7 490.2 1288.2 490.3 1287.8 490.3 C1287.3 490.3 1286.8 490.3 1286.3 490.2 C1285.9 490.1 1285.4 489.9 1285 489.7 C1284.5 489.6 1284.1 489.3 1283.7 489 C1283.3 488.8 1282.9 488.4 1282.6 488.1 C1282.3 487.7 1282 487.3 1281.8 486.9 C1281.5 486.5 1281.3 486.1 1281.2 485.6 C1281 485.2 1280.9 484.7 1280.9 484.2 C1280.8 483.7 1280.8 483.2 1280.9 482.8 C1280.9 482.3 1281 481.8 1281.2 481.4 C1281.3 480.9 1281.5 480.5 1281.8 480 C1282 479.6 1282.3 479.2 1282.6 478.9 C1282.9 478.5 1283.3 478.2 1283.7 477.9 C1284.1 477.7 1284.5 477.4 1285 477.2 C1285.4 477 1285.9 476.9 1286.3 476.8 C1286.8 476.7 1287.3 476.7 1287.8 476.7 C1288.2 476.7 1288.7 476.8 1289.2 476.9 C1289.7 477 1290.1 477.2 1290.6 477.4 C1291 477.6 1291.4 477.8 1291.8 478.1 C1292.2 478.4 1292.6 479 1292.8 479.1" stroke-width="1.8"/>
<path d="M1277.6 466.5 L1276.9 480.4"/>
<ellipse cx="1449.1" cy="556.1" rx="2.6" ry="3.6" transform="rotate(-20 1449.1 556.1)" stroke-width="2.2"/>
<path d="M1450.2 552.6 L1474.3 558.1" stroke-width="2.1"/>
<path d="M1452.2 562.2 L1468.2 574.2" stroke-width="2.1"/>
<ellipse cx="1464.2" cy="563.2" rx="2.4" ry="4" transform="rotate(-20 1464.2 563.2)" stroke-width="1.8"/>
<path d="M1474.3 553.1 C1474.1 552.1 1472.8 549 1473.3 547.1 C1473.8 545.2 1475.4 542.2 1477.3 541.6 C1479.1 540.9 1483.1 542.8 1484.3 543.1" stroke-width="2.1"/>
<path d="M1477.3 541.6 L1511.5 553.1 L1512.5 557.1 L1507.4 569.2" stroke-width="2.1"/>
<path d="M1478.3 553.1 L1465.2 592.3 L1467.2 599.3 L1473.3 601.9 L1490.4 592.3" stroke-width="2.1"/>
<path d="M1484.3 550.1 L1480.3 565.2" stroke-width="1.6"/>
<path d="M1476.3 576.2 L1470.3 594.3" stroke-width="1.6"/>
<ellipse cx="1489.3" cy="551.6" rx="1.8" ry="2.6" stroke-width="2.4"/>
<ellipse cx="1507.4" cy="557.6" rx="2.4" ry="3" stroke-width="2"/>
<ellipse cx="1473.3" cy="595.8" rx="2.5" ry="2.8" stroke-width="2"/>
<path d="M1507.4 569.2 C1504.6 568.6 1494.2 565.7 1490.4 565.7 C1486.5 565.7 1485.7 567.6 1484.3 569.2 C1482.9 570.8 1481.8 573.2 1481.8 575.2 C1481.8 577.2 1483.1 579.7 1484.3 581.3 C1485.6 582.8 1488.5 584.2 1489.3 584.8" stroke-width="2.1"/>
<path d="M1496.4 569.2 C1495.4 570 1491.4 572 1490.4 574.2 C1489.3 576.4 1490.4 580.9 1490.4 582.3" stroke-width="1.6"/>
<path d="M1489.3 584.8 C1489.6 586.3 1491.4 597.3 1492.4 600.4 C1493.4 603.4 1498.6 612.4 1499.4 615.4 C1500.2 618.4 1500.3 629 1500.4 630.5" stroke-width="2.1"/>
<path d="M1507.4 569.2 C1507.9 571.8 1511.4 591.4 1512.5 595.3 C1513.6 599.2 1517.2 603.9 1518.5 608.4 C1519.8 612.9 1524.8 636.8 1525.5 639.9" stroke-width="2.1"/>
<path d="M1492.4 583.3 L1496.4 598.3" stroke-width="1.6"/>
<path d="M1499.4 601.9 L1512.5 596.8" stroke-width="1.7"/>
<path d="M1504.4 615.4 L1518 609.4" stroke-width="1.7"/>
<path d="M1499.4 603.9 L1500.4 613.4" stroke-width="1.5"/>
<path d="M1518.4 608.9 C1519 611.2 1521.9 622.2 1522.9 626.3 C1523.9 630.3 1525.5 636.5 1525.5 639.1 C1525.5 641.7 1524.1 644.4 1522.9 645.9 C1521.7 647.4 1518.4 649.7 1516.9 650.4 C1515.3 651.1 1512.9 651.6 1511.6 651.2 C1510.3 650.8 1508 648.5 1507 647.4 C1506 646.3 1504.4 643.5 1504 642.9" stroke-width="2.1"/>
<path d="M1498.7 612.7 C1498.9 613.7 1500 620.5 1500.2 623.2 C1500.5 626 1500.6 637.9 1501 639.8 C1501.4 641.8 1503.7 642.6 1504 642.9" stroke-width="2.1"/>
<path d="M1502.5 618.7 L1506.3 638.3" stroke-width="2.6"/>
<path d="M1264.9 681.7 C1260.2 682.7 1236.1 687.5 1229.7 689.2 C1223.3 690.9 1219.3 692.4 1217.1 694.2 C1214.9 696.1 1213.5 700.7 1213.4 703 C1213.2 705.4 1214.4 710.2 1215.9 711.8 C1217.4 713.4 1217.8 716.2 1224.7 715.1 C1231.5 713.9 1261.7 704.6 1267.4 703" stroke-width="2.1"/>
<path d="M1264.9 681.7 C1265.7 682 1268.2 683 1269.9 683.4 C1271.6 683.8 1274.1 684 1274.9 684.2" stroke-width="2.1"/>
<path d="M1274.9 684.2 L1453.3 638.9" stroke-width="2.1"/>
<path d="M1453.3 638.9 C1454.4 638.4 1457.5 636.9 1459.6 635.7 C1461.7 634.4 1459.5 633.4 1465.9 631.4 C1472.3 629.5 1492.6 625.2 1498 624" stroke-width="2.1"/>
<path d="M1267.4 703 C1268.2 702.5 1270.7 701 1272.4 700 C1274.1 699 1276.6 697.3 1277.4 696.7" stroke-width="2.1"/>
<path d="M1277.4 696.7 L1458.3 654" stroke-width="2.1"/>
<path d="M1458.3 654 C1459.4 654.3 1462.5 655.6 1464.6 655.8 C1466.7 656 1464.2 656.9 1470.9 655.3 C1477.6 653.7 1499.1 647.8 1504.8 646.3" stroke-width="2.1"/>
<path d="M1229.7 691 L1259.8 684.7" stroke-dasharray="1.5 1" stroke-linecap="butt" stroke-width="1.5"/>
<path d="M1277.4 683.7 L1332.7 669.8" stroke-dasharray="1.5 1" stroke-linecap="butt" stroke-width="1.5"/>
<path d="M1393 654.8 L1453.3 640.7" stroke-dasharray="1.5 1" stroke-linecap="butt" stroke-width="1.5"/>
<path d="M1454.9 640.2 L1462.5 638.7 L1469.3 632.3 L1498 626.3" stroke-dasharray="2 1.2" stroke-linecap="butt" stroke-width="1.6"/>
<ellipse cx="1225.4" cy="703" rx="5.6" ry="7" transform="rotate(20 1225.4 703)" stroke-width="1.8"/>
<path d="M1227.5 705 C1227.4 705.1 1227.3 705.4 1227.1 705.5 C1227 705.7 1226.8 705.8 1226.7 706 C1226.5 706.1 1226.3 706.2 1226.1 706.3 C1225.9 706.4 1225.7 706.4 1225.5 706.5 C1225.3 706.5 1225.1 706.5 1224.9 706.5 C1224.6 706.5 1224.4 706.5 1224.2 706.4 C1224 706.4 1223.8 706.3 1223.6 706.2 C1223.4 706.1 1223.2 706 1223.1 705.9 C1222.9 705.8 1222.8 705.6 1222.6 705.4 C1222.5 705.3 1222.4 705.1 1222.3 704.9 C1222.2 704.7 1222.1 704.5 1222 704.3 C1222 704.1 1221.9 703.9 1221.9 703.7 C1221.9 703.5 1221.9 703.3 1222 703.1 C1222 702.8 1222 702.6 1222.1 702.4 C1222.2 702.2 1222.3 702 1222.4 701.9 C1222.5 701.7 1222.7 701.5 1222.8 701.4 C1223 701.2 1223.1 701.1 1223.3 701 C1223.5 700.9 1223.8 700.7 1223.9 700.7"/>
<path d="M1279.1 741.8 C1276.7 742.3 1265 744.5 1261.7 746.1 C1258.4 747.7 1255.6 751.6 1254.5 754.1 C1253.3 756.5 1253.2 762.8 1253 764.2" stroke-width="2.1"/>
<path d="M1253 764.2 L1273.3 814.8 L1279.1 826.4 L1283.4 829.3 L1318.1 843.7" stroke-width="2.1"/>
<path d="M1279.1 741.8 L1334 728 L1370.2 743.9 L1396.2 740.3 L1397 745.4" stroke-width="2.1"/>
<path d="M1279.1 741.8 C1278.8 740.1 1276.5 732.1 1276.9 729.5 C1277.3 726.9 1279.9 723.4 1281.9 722.2 C1284 721.1 1289.6 720.4 1292.1 720.8 C1294.6 721.2 1299.3 723.2 1300.8 725.1 C1302.2 727.1 1302.6 733.9 1302.9 735.3" stroke-width="2.1"/>
<path d="M1283.4 736.7 C1283.2 735.3 1281 730.2 1281.9 728 C1282.9 725.8 1288 724.4 1289.2 723.7" stroke-width="1.5"/>
<path d="M1372.4 747.5 L1373.1 775.8 L1384.7 777.2" stroke-width="2.1"/>
<path d="M1287.7 748.3 C1289.9 746.9 1299.2 739.7 1303.6 738.1 C1308.1 736.6 1316.4 736.1 1321 736.7 C1325.6 737.3 1334.5 740 1338.4 742.5 C1342.2 745 1348.2 751.5 1349.9 755.5 C1351.7 759.6 1352.2 768.2 1351.4 772.9 C1350.6 777.5 1346.9 786 1344.2 790.2 C1341.5 794.5 1332.9 802.8 1331.1 804.7" stroke-width="2.1"/>
<path d="M1287.7 748.3 C1286.4 748.4 1279.9 748 1277.6 749 C1275.3 750 1271.5 753.5 1270.4 755.5 C1269.2 757.5 1268.4 762.1 1268.9 764.2 C1269.5 766.3 1272.6 770.3 1274.7 771.4 C1276.8 772.6 1283.5 772.7 1284.8 772.9" stroke-width="2.1"/>
<path d="M1276.2 774.3 C1276.4 776.5 1276.4 783.2 1277.6 787.3 C1278.8 791.4 1280.5 795.5 1283.4 798.9 C1286.3 802.3 1293 806.1 1295 807.6" stroke-width="2.1"/>
<path d="M1295 797.5 L1297.9 807.6 L1310.9 813.4 L1311.6 819.2" stroke-width="1.6"/>
<path d="M1295 807.6 C1295.5 809 1295.7 813.8 1297.9 816.3 C1300 818.7 1304.1 820.6 1308 822 C1311.8 823.5 1317.6 824.7 1321 824.9 C1324.4 825.2 1327 823.7 1328.2 823.5" stroke-width="2.1"/>
<path d="M1331.1 804.7 L1330.4 823.5" stroke-width="1.6"/>
<path d="M1316.7 743.9 C1318.4 743.6 1323.2 741.4 1326.8 741.8 C1330.4 742.1 1335.5 744.9 1338.4 746.1 C1341.3 747.3 1343.2 748.5 1344.2 749" stroke-width="1.6"/>
<path d="M1328.2 738.1 C1330.4 738.3 1336.9 737.5 1341.3 738.9 C1345.6 740.2 1351.9 743.6 1354.3 746.1 C1356.7 748.6 1355.5 752.7 1355.7 754.1" stroke-width="1.6"/>
<path d="M1287.7 758.4 L1300.8 755.5 L1308 749.7" stroke-width="1.6"/>
<path d="M1284.8 772.9 L1292.1 777.2 L1292.8 788.8" stroke-width="1.6"/>
<ellipse cx="1295" cy="767.1" rx="5.8" ry="6" stroke-width="1.8"/>
<ellipse cx="1348.5" cy="754.8" rx="6" ry="6.4" stroke-width="1.8"/>
<ellipse cx="1322.5" cy="814.8" rx="5.8" ry="6.2" stroke-width="1.8"/>
<path d="M1351.4 767.8 C1352.8 769.1 1357.7 772 1360.1 775.8 C1362.5 779.5 1364.6 784.9 1365.8 790.2 C1367.1 795.5 1367.8 802.8 1367.3 807.6 C1366.8 812.4 1365.4 816.4 1363 819.2 C1360.5 821.9 1355.5 823.6 1352.8 824.2 C1350.2 824.8 1348 823 1347 822.8" stroke-width="2.1"/>
<path d="M1355.7 771.4 C1357.7 772.4 1364.4 773.6 1367.3 777.2 C1370.2 780.8 1372 787.8 1373.1 793.1 C1374.2 798.4 1374.5 804.7 1373.8 809 C1373.1 813.4 1371 816.7 1368.7 819.2 C1366.5 821.6 1361.5 822.8 1360.1 823.5" stroke-width="2.1"/>
<path d="M1368 801.8 L1367.3 813.4" stroke-width="1.5"/>
<path d="M1403.5 756.2 C1405.2 755.6 1413.2 752.4 1416.5 751.9 C1419.8 751.4 1425.7 752 1428.1 752.6 C1430.4 753.2 1433.1 755.7 1433.8 756.2" stroke-width="2.1"/>
<path d="M1374.5 813.4 L1429.5 798.9 L1435.3 796" stroke-width="2.1"/>
<path d="M1433.8 756.2 C1434.8 758 1438.4 763.1 1439.6 767.1 C1440.8 771.1 1441.3 776 1441.1 780.1 C1440.8 784.2 1439.6 788.5 1438.2 791.7 C1436.7 794.8 1433.4 797.7 1432.4 798.9" stroke-width="2.1"/>
<path d="M1438.2 758.4 C1439.4 760.1 1444 764.9 1445.4 768.5 C1446.9 772.1 1447.1 777 1446.9 780.1 C1446.6 783.2 1444.4 786.1 1444 787.3" stroke-width="2.1"/>
<path d="M1442.5 759.8 C1443.6 761.5 1447.8 766.8 1449 770 C1450.2 773.1 1449.6 777.2 1449.7 778.6" stroke-width="2"/>
<ellipse cx="1389" cy="760.6" rx="14.5" ry="16" transform="rotate(15 1389 760.6)" stroke-width="2"/>
<ellipse cx="1394.1" cy="762" rx="5.6" ry="5.8" stroke-width="2.8"/>
<path d="M1394.8 761.3 L1399.1 763.5" stroke-width="2.2"/>
<path d="M1382.5 748.3 C1381.6 750 1377.9 754.8 1377.4 758.4 C1376.9 762 1379.2 768 1379.6 770" stroke-width="1.4"/>
<path d="M1397.7 807.6 L1425.2 800.3 L1455.5 811.2 L1455.5 845.2 L1449.7 843.7" stroke-width="2.1"/>
<path d="M1397.7 807.6 L1425.2 820.6 L1426.6 851" stroke-width="2.1"/>
<path d="M1425.2 820.6 L1449.7 813.4 L1450.5 842.3" stroke-width="2.1"/>
<path d="M1403.5 805.8 L1428.1 816.3 L1452.6 809.7" stroke-width="1.5"/>
<ellipse cx="1438.2" cy="838" rx="13" ry="14.5" transform="rotate(10 1438.2 838)" stroke-width="2"/>
<ellipse cx="1442.5" cy="839.4" rx="4.8" ry="5.2" stroke-width="2.8"/>
<path d="M1443.2 838.7 L1448.3 840.8" stroke-width="2.2"/>
<path d="M1418.6 824.9 C1418.4 827.1 1416.4 833.6 1417.2 838 C1418 842.3 1422.6 848.8 1423.7 851" stroke-width="1.8"/>
<path d="M1420.8 826.4 L1424.4 827.5" stroke-width="1.2"/>
<path d="M1420.8 829.9 L1424.4 831" stroke-width="1.2"/>
<path d="M1420.8 833.3 L1424.4 834.5" stroke-width="1.2"/>
<path d="M1420.8 836.8 L1424.4 838" stroke-width="1.2"/>
<path d="M1420.8 840.3 L1424.4 841.4" stroke-width="1.2"/>
<path d="M1420.8 843.7 L1424.4 844.9" stroke-width="1.2"/>
<path d="M1420.8 847.2 L1424.4 848.4" stroke-width="1.2"/>
<path d="M1318.1 843.7 L1321 858.2 L1332.6 865.4" stroke-width="2.1"/>
<ellipse cx="1339.8" cy="849.5" rx="14.5" ry="16" transform="rotate(12 1339.8 849.5)" stroke-width="2"/>
<ellipse cx="1343.4" cy="853.1" rx="5.3" ry="5.6" stroke-width="2.8"/>
<path d="M1344.2 852.4 L1349.9 854.6" stroke-width="2.2"/>
<path d="M1321 842.3 L1338.4 832.2 L1354.3 838 L1354.3 852.4" stroke-width="2.1"/>
<path d="M1328.2 824.9 L1354.3 838" stroke-width="2.1"/>
<path d="M1326.8 845.2 C1326.6 846.6 1325 851.2 1325.3 853.9 C1325.7 856.5 1328.4 859.9 1329 861.1" stroke-width="1.4"/>
<path d="M1281.9 822 C1282.9 821.2 1285.6 818.2 1287.7 817 C1289.9 815.8 1293.8 815.2 1295 814.8" stroke-width="1.6"/>
<path d="M1273.3 809 L1293.5 809.7" stroke-width="1.6"/>
<ellipse cx="1482.2" cy="857.2" rx="8.4" ry="8.8" stroke-width="2.2"/>
<ellipse cx="1485.5" cy="859.2" rx="4" ry="4.4" stroke-width="1.6"/>
<path d="M1478.4 850.4 L1480.9 864.2" stroke-width="1.5"/>
<path d="M1480.9 854.2 L1487.2 852.9" stroke-width="1.5"/>
</g>
</svg>
</body></html>
